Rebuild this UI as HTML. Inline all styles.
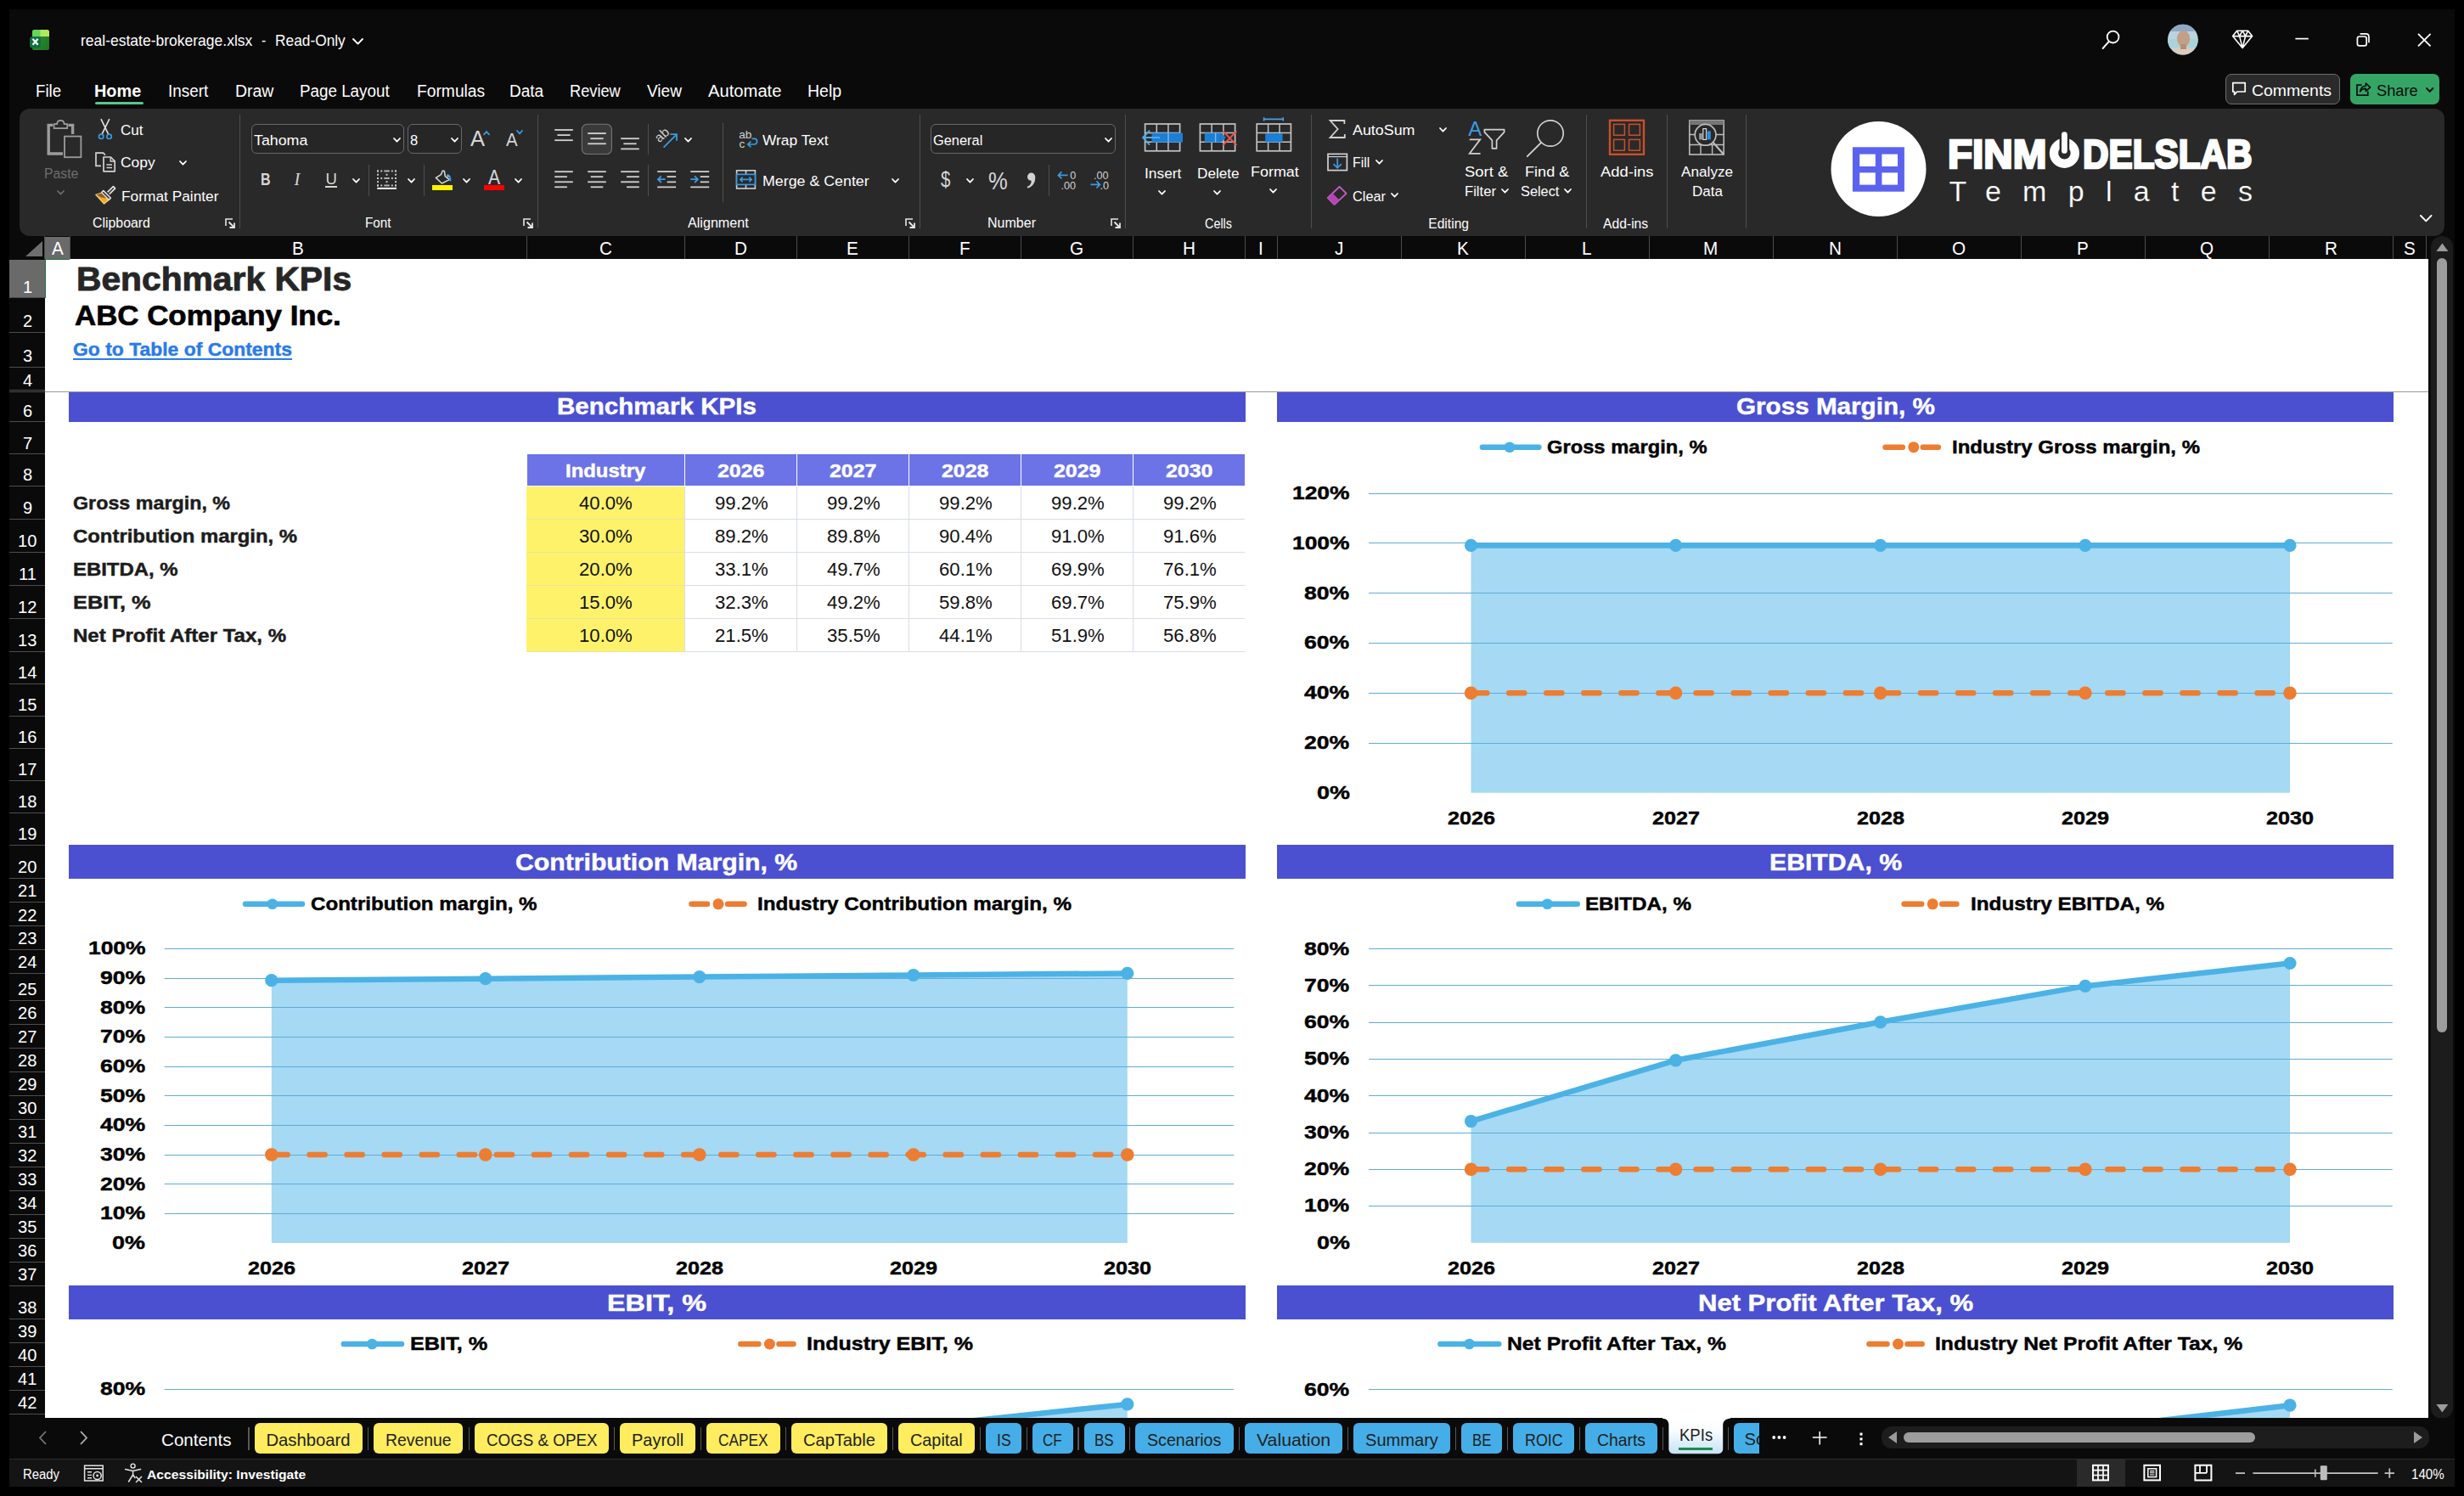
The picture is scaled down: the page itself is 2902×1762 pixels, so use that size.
<!DOCTYPE html>
<html><head><meta charset="utf-8"><title>real-estate-brokerage.xlsx - Excel</title><style>
html,body{margin:0;padding:0;background:#000;}
body{width:2902px;height:1762px;position:relative;overflow:hidden;font-family:"Liberation Sans",sans-serif;}
.t{position:absolute;white-space:nowrap;line-height:1;transform-origin:0 0;}
.r{position:absolute;}
#win{position:absolute;left:11px;top:11px;width:2880px;height:1739.7px;background:#0a0a0a;}
#clip{position:absolute;left:0;top:0;width:2860px;height:1670.5px;overflow:hidden;}
</style></head>
<body>
<div id="win"></div>
<div id="clip"><div class="r" style="left:53.0px;top:305.0px;width:2807.0px;height:1365.5px;background:#fff;"></div>
<div class="r" style="left:53.0px;top:461.0px;width:2807.0px;height:1.0px;background:#9a9a9a;"></div>
<span class="t" style="left:90.0px;top:310.0px;font-size:38.8px;color:#262626;font-weight:700;transform:scaleX(1.051);-webkit-text-stroke:0.9px currentColor;">Benchmark KPIs</span>
<span class="t" style="left:88.0px;top:355.0px;font-size:33.6px;color:#000;font-weight:700;transform:scaleX(1.038);-webkit-text-stroke:0.7px currentColor;">ABC Company Inc.</span>
<span class="t" style="left:86.0px;top:401.0px;font-size:21.6px;color:#2a7be8;font-weight:700;transform:scaleX(1.061);-webkit-text-stroke:0.45px currentColor;">Go to Table of Contents</span>
<div class="r" style="left:86.0px;top:421.8px;width:258.0px;height:2.2px;background:#2a7be8;"></div>
<div class="r" style="left:81.0px;top:461.7px;width:1385.5px;height:35.1px;background:#4b50d0;"></div>
<span class="t" style="left:656.0px;top:466.0px;font-size:26.8px;color:#fff;font-weight:700;transform:scaleX(1.103);-webkit-text-stroke:0.45px currentColor;">Benchmark KPIs</span>
<div class="r" style="left:1504.0px;top:461.7px;width:1315.0px;height:35.1px;background:#4b50d0;"></div>
<span class="t" style="left:2044.5px;top:466.0px;font-size:26.8px;color:#fff;font-weight:700;transform:scaleX(1.106);-webkit-text-stroke:0.45px currentColor;">Gross Margin, %</span>
<div class="r" style="left:81.0px;top:995.2px;width:1385.5px;height:39.5px;background:#4b50d0;"></div>
<span class="t" style="left:607.0px;top:1003.0px;font-size:26.8px;color:#fff;font-weight:700;transform:scaleX(1.127);-webkit-text-stroke:0.45px currentColor;">Contribution Margin, %</span>
<div class="r" style="left:1504.0px;top:995.2px;width:1315.0px;height:39.5px;background:#4b50d0;"></div>
<span class="t" style="left:2083.5px;top:1003.0px;font-size:26.8px;color:#fff;font-weight:700;transform:scaleX(1.127);-webkit-text-stroke:0.45px currentColor;">EBITDA, %</span>
<div class="r" style="left:81.0px;top:1514.1px;width:1385.5px;height:39.5px;background:#4b50d0;"></div>
<span class="t" style="left:715.3px;top:1522.0px;font-size:26.8px;color:#fff;font-weight:700;transform:scaleX(1.208);-webkit-text-stroke:0.45px currentColor;">EBIT, %</span>
<div class="r" style="left:1504.0px;top:1514.1px;width:1315.0px;height:39.5px;background:#4b50d0;"></div>
<span class="t" style="left:1999.8px;top:1522.0px;font-size:26.8px;color:#fff;font-weight:700;transform:scaleX(1.158);-webkit-text-stroke:0.45px currentColor;">Net Profit After Tax, %</span>
<div class="r" style="left:619.8px;top:572.5px;width:846.6px;height:195.2px;background:#d9dce9;"></div>
<div class="r" style="left:619.8px;top:572.5px;width:186.2px;height:195.2px;background:#e9e3a4;"></div>
<div class="r" style="left:620.6px;top:535.0px;width:185.2px;height:37.2px;background:#6c73e7;"></div>
<span class="t" style="left:666.1px;top:544.0px;font-size:21.8px;color:#fff;font-weight:700;transform:scaleX(1.097);-webkit-text-stroke:0.45px currentColor;">Industry</span>
<div class="r" style="left:807.3px;top:535.0px;width:130.4px;height:37.2px;background:#6c73e7;"></div>
<span class="t" style="left:844.8px;top:544.0px;font-size:21.8px;color:#fff;font-weight:700;transform:scaleX(1.144);-webkit-text-stroke:0.45px currentColor;">2026</span>
<div class="r" style="left:939.3px;top:535.0px;width:130.4px;height:37.2px;background:#6c73e7;"></div>
<span class="t" style="left:976.8px;top:544.0px;font-size:21.8px;color:#fff;font-weight:700;transform:scaleX(1.144);-webkit-text-stroke:0.45px currentColor;">2027</span>
<div class="r" style="left:1071.3px;top:535.0px;width:130.4px;height:37.2px;background:#6c73e7;"></div>
<span class="t" style="left:1108.8px;top:544.0px;font-size:21.8px;color:#fff;font-weight:700;transform:scaleX(1.144);-webkit-text-stroke:0.45px currentColor;">2028</span>
<div class="r" style="left:1203.3px;top:535.0px;width:130.4px;height:37.2px;background:#6c73e7;"></div>
<span class="t" style="left:1240.8px;top:544.0px;font-size:21.8px;color:#fff;font-weight:700;transform:scaleX(1.144);-webkit-text-stroke:0.45px currentColor;">2029</span>
<div class="r" style="left:1335.3px;top:535.0px;width:130.4px;height:37.2px;background:#6c73e7;"></div>
<span class="t" style="left:1372.8px;top:544.0px;font-size:21.8px;color:#fff;font-weight:700;transform:scaleX(1.144);-webkit-text-stroke:0.45px currentColor;">2030</span>
<div class="r" style="left:620.4px;top:573.0px;width:185.9px;height:38.1px;background:#fff26b;"></div>
<span class="t" style="left:682.3px;top:583.0px;font-size:21.3px;color:#111;transform:scaleX(1.040);">40.0%</span>
<div class="r" style="left:806.8px;top:573.0px;width:131.4px;height:38.1px;background:#fff;"></div>
<span class="t" style="left:841.6px;top:583.0px;font-size:21.3px;color:#111;transform:scaleX(1.040);">99.2%</span>
<div class="r" style="left:938.8px;top:573.0px;width:131.4px;height:38.1px;background:#fff;"></div>
<span class="t" style="left:973.6px;top:583.0px;font-size:21.3px;color:#111;transform:scaleX(1.040);">99.2%</span>
<div class="r" style="left:1070.8px;top:573.0px;width:131.4px;height:38.1px;background:#fff;"></div>
<span class="t" style="left:1105.6px;top:583.0px;font-size:21.3px;color:#111;transform:scaleX(1.040);">99.2%</span>
<div class="r" style="left:1202.8px;top:573.0px;width:131.4px;height:38.1px;background:#fff;"></div>
<span class="t" style="left:1237.6px;top:583.0px;font-size:21.3px;color:#111;transform:scaleX(1.040);">99.2%</span>
<div class="r" style="left:1334.8px;top:573.0px;width:131.4px;height:38.1px;background:#fff;"></div>
<span class="t" style="left:1369.6px;top:583.0px;font-size:21.3px;color:#111;transform:scaleX(1.040);">99.2%</span>
<span class="t" style="left:86.0px;top:583.0px;font-size:21.5px;color:#1c1c1c;font-weight:700;transform:scaleX(1.083);-webkit-text-stroke:0.45px currentColor;">Gross margin, %</span>
<div class="r" style="left:620.4px;top:612.0px;width:185.9px;height:38.1px;background:#fff26b;"></div>
<span class="t" style="left:682.3px;top:622.0px;font-size:21.3px;color:#111;transform:scaleX(1.040);">30.0%</span>
<div class="r" style="left:806.8px;top:612.0px;width:131.4px;height:38.1px;background:#fff;"></div>
<span class="t" style="left:841.6px;top:622.0px;font-size:21.3px;color:#111;transform:scaleX(1.040);">89.2%</span>
<div class="r" style="left:938.8px;top:612.0px;width:131.4px;height:38.1px;background:#fff;"></div>
<span class="t" style="left:973.6px;top:622.0px;font-size:21.3px;color:#111;transform:scaleX(1.040);">89.8%</span>
<div class="r" style="left:1070.8px;top:612.0px;width:131.4px;height:38.1px;background:#fff;"></div>
<span class="t" style="left:1105.6px;top:622.0px;font-size:21.3px;color:#111;transform:scaleX(1.040);">90.4%</span>
<div class="r" style="left:1202.8px;top:612.0px;width:131.4px;height:38.1px;background:#fff;"></div>
<span class="t" style="left:1237.6px;top:622.0px;font-size:21.3px;color:#111;transform:scaleX(1.040);">91.0%</span>
<div class="r" style="left:1334.8px;top:612.0px;width:131.4px;height:38.1px;background:#fff;"></div>
<span class="t" style="left:1369.6px;top:622.0px;font-size:21.3px;color:#111;transform:scaleX(1.040);">91.6%</span>
<span class="t" style="left:86.0px;top:622.0px;font-size:21.5px;color:#1c1c1c;font-weight:700;transform:scaleX(1.111);-webkit-text-stroke:0.45px currentColor;">Contribution margin, %</span>
<div class="r" style="left:620.4px;top:651.0px;width:185.9px;height:38.1px;background:#fff26b;"></div>
<span class="t" style="left:682.3px;top:661.0px;font-size:21.3px;color:#111;transform:scaleX(1.040);">20.0%</span>
<div class="r" style="left:806.8px;top:651.0px;width:131.4px;height:38.1px;background:#fff;"></div>
<span class="t" style="left:841.6px;top:661.0px;font-size:21.3px;color:#111;transform:scaleX(1.040);">33.1%</span>
<div class="r" style="left:938.8px;top:651.0px;width:131.4px;height:38.1px;background:#fff;"></div>
<span class="t" style="left:973.6px;top:661.0px;font-size:21.3px;color:#111;transform:scaleX(1.040);">49.7%</span>
<div class="r" style="left:1070.8px;top:651.0px;width:131.4px;height:38.1px;background:#fff;"></div>
<span class="t" style="left:1105.6px;top:661.0px;font-size:21.3px;color:#111;transform:scaleX(1.040);">60.1%</span>
<div class="r" style="left:1202.8px;top:651.0px;width:131.4px;height:38.1px;background:#fff;"></div>
<span class="t" style="left:1237.6px;top:661.0px;font-size:21.3px;color:#111;transform:scaleX(1.040);">69.9%</span>
<div class="r" style="left:1334.8px;top:651.0px;width:131.4px;height:38.1px;background:#fff;"></div>
<span class="t" style="left:1369.6px;top:661.0px;font-size:21.3px;color:#111;transform:scaleX(1.040);">76.1%</span>
<span class="t" style="left:86.0px;top:661.0px;font-size:21.5px;color:#1c1c1c;font-weight:700;transform:scaleX(1.112);-webkit-text-stroke:0.45px currentColor;">EBITDA, %</span>
<div class="r" style="left:620.4px;top:690.0px;width:185.9px;height:38.1px;background:#fff26b;"></div>
<span class="t" style="left:682.3px;top:700.0px;font-size:21.3px;color:#111;transform:scaleX(1.040);">15.0%</span>
<div class="r" style="left:806.8px;top:690.0px;width:131.4px;height:38.1px;background:#fff;"></div>
<span class="t" style="left:841.6px;top:700.0px;font-size:21.3px;color:#111;transform:scaleX(1.040);">32.3%</span>
<div class="r" style="left:938.8px;top:690.0px;width:131.4px;height:38.1px;background:#fff;"></div>
<span class="t" style="left:973.6px;top:700.0px;font-size:21.3px;color:#111;transform:scaleX(1.040);">49.2%</span>
<div class="r" style="left:1070.8px;top:690.0px;width:131.4px;height:38.1px;background:#fff;"></div>
<span class="t" style="left:1105.6px;top:700.0px;font-size:21.3px;color:#111;transform:scaleX(1.040);">59.8%</span>
<div class="r" style="left:1202.8px;top:690.0px;width:131.4px;height:38.1px;background:#fff;"></div>
<span class="t" style="left:1237.6px;top:700.0px;font-size:21.3px;color:#111;transform:scaleX(1.040);">69.7%</span>
<div class="r" style="left:1334.8px;top:690.0px;width:131.4px;height:38.1px;background:#fff;"></div>
<span class="t" style="left:1369.6px;top:700.0px;font-size:21.3px;color:#111;transform:scaleX(1.040);">75.9%</span>
<span class="t" style="left:86.0px;top:700.0px;font-size:21.5px;color:#1c1c1c;font-weight:700;transform:scaleX(1.178);-webkit-text-stroke:0.45px currentColor;">EBIT, %</span>
<div class="r" style="left:620.4px;top:729.0px;width:185.9px;height:38.1px;background:#fff26b;"></div>
<span class="t" style="left:682.3px;top:739.0px;font-size:21.3px;color:#111;transform:scaleX(1.040);">10.0%</span>
<div class="r" style="left:806.8px;top:729.0px;width:131.4px;height:38.1px;background:#fff;"></div>
<span class="t" style="left:841.6px;top:739.0px;font-size:21.3px;color:#111;transform:scaleX(1.040);">21.5%</span>
<div class="r" style="left:938.8px;top:729.0px;width:131.4px;height:38.1px;background:#fff;"></div>
<span class="t" style="left:973.6px;top:739.0px;font-size:21.3px;color:#111;transform:scaleX(1.040);">35.5%</span>
<div class="r" style="left:1070.8px;top:729.0px;width:131.4px;height:38.1px;background:#fff;"></div>
<span class="t" style="left:1105.6px;top:739.0px;font-size:21.3px;color:#111;transform:scaleX(1.040);">44.1%</span>
<div class="r" style="left:1202.8px;top:729.0px;width:131.4px;height:38.1px;background:#fff;"></div>
<span class="t" style="left:1237.6px;top:739.0px;font-size:21.3px;color:#111;transform:scaleX(1.040);">51.9%</span>
<div class="r" style="left:1334.8px;top:729.0px;width:131.4px;height:38.1px;background:#fff;"></div>
<span class="t" style="left:1369.6px;top:739.0px;font-size:21.3px;color:#111;transform:scaleX(1.040);">56.8%</span>
<span class="t" style="left:86.0px;top:739.0px;font-size:21.5px;color:#1c1c1c;font-weight:700;transform:scaleX(1.118);-webkit-text-stroke:0.45px currentColor;">Net Profit After Tax, %</span>
<svg class="r" style="left:0;top:0" width="2860" height="1670.5" viewBox="0 0 2860 1670.5"><polygon points="1732.5,933.8 1732.5,642.4 1973.6,642.4 2214.7,642.4 2455.9,642.4 2697.0,642.4 2697.0,933.8" fill="#a5d9f4"/>
<line x1="1612.0" x2="2817.7" y1="875.5" y2="875.5" stroke="#5fabd8" stroke-width="1.1"/>
<line x1="1612.0" x2="2817.7" y1="816.5" y2="816.5" stroke="#5fabd8" stroke-width="1.1"/>
<line x1="1612.0" x2="2817.7" y1="757.5" y2="757.5" stroke="#5fabd8" stroke-width="1.1"/>
<line x1="1612.0" x2="2817.7" y1="698.5" y2="698.5" stroke="#5fabd8" stroke-width="1.1"/>
<line x1="1612.0" x2="2817.7" y1="639.5" y2="639.5" stroke="#5fabd8" stroke-width="1.1"/>
<line x1="1612.0" x2="2817.7" y1="581.5" y2="581.5" stroke="#5fabd8" stroke-width="1.1"/>
<polyline points="1732.5,642.4 1973.6,642.4 2214.7,642.4 2455.9,642.4 2697.0,642.4" fill="none" stroke="#4bb2e6" stroke-width="6.5" stroke-linejoin="round" stroke-linecap="round"/>
<circle cx="1732.5" cy="642.4" r="7.6" fill="#4bb2e6"/>
<circle cx="1973.6" cy="642.4" r="7.6" fill="#4bb2e6"/>
<circle cx="2214.7" cy="642.4" r="7.6" fill="#4bb2e6"/>
<circle cx="2455.9" cy="642.4" r="7.6" fill="#4bb2e6"/>
<circle cx="2697.0" cy="642.4" r="7.6" fill="#4bb2e6"/>
<line x1="1732.5" x2="2697.0" y1="816.3" y2="816.3" stroke="#ed7d31" stroke-width="6.5" stroke-dasharray="18.2 25.87" stroke-dashoffset="-0.6" stroke-linecap="round"/>
<circle cx="1732.5" cy="816.3" r="7.8" fill="#ed7d31"/>
<circle cx="1973.6" cy="816.3" r="7.8" fill="#ed7d31"/>
<circle cx="2214.7" cy="816.3" r="7.8" fill="#ed7d31"/>
<circle cx="2455.9" cy="816.3" r="7.8" fill="#ed7d31"/>
<circle cx="2697.0" cy="816.3" r="7.8" fill="#ed7d31"/>
<line x1="1745.9" x2="1812.4" y1="526.7" y2="526.7" stroke="#4bb2e6" stroke-width="6.5" stroke-linecap="round"/>
<circle cx="1778" cy="526.7" r="6.3" fill="#4bb2e6"/>
<line x1="2220.5" x2="2240.8" y1="526.7" y2="526.7" stroke="#ed7d31" stroke-width="6.5" stroke-linecap="round"/>
<line x1="2264.8" x2="2282.8" y1="526.7" y2="526.7" stroke="#ed7d31" stroke-width="6.5" stroke-linecap="round"/>
<circle cx="2253.8" cy="526.7" r="6.5" fill="#ed7d31"/>
<polygon points="319.8,1464.0 319.8,1154.7 571.8,1152.7 823.8,1150.6 1075.8,1148.5 1327.8,1146.4 1327.8,1464.0" fill="#a5d9f4"/>
<line x1="193.7" x2="1453.2" y1="1429.5" y2="1429.5" stroke="#5fabd8" stroke-width="1.1"/>
<line x1="193.7" x2="1453.2" y1="1394.5" y2="1394.5" stroke="#5fabd8" stroke-width="1.1"/>
<line x1="193.7" x2="1453.2" y1="1360.5" y2="1360.5" stroke="#5fabd8" stroke-width="1.1"/>
<line x1="193.7" x2="1453.2" y1="1325.5" y2="1325.5" stroke="#5fabd8" stroke-width="1.1"/>
<line x1="193.7" x2="1453.2" y1="1290.5" y2="1290.5" stroke="#5fabd8" stroke-width="1.1"/>
<line x1="193.7" x2="1453.2" y1="1256.5" y2="1256.5" stroke="#5fabd8" stroke-width="1.1"/>
<line x1="193.7" x2="1453.2" y1="1221.5" y2="1221.5" stroke="#5fabd8" stroke-width="1.1"/>
<line x1="193.7" x2="1453.2" y1="1186.5" y2="1186.5" stroke="#5fabd8" stroke-width="1.1"/>
<line x1="193.7" x2="1453.2" y1="1152.5" y2="1152.5" stroke="#5fabd8" stroke-width="1.1"/>
<line x1="193.7" x2="1453.2" y1="1117.5" y2="1117.5" stroke="#5fabd8" stroke-width="1.1"/>
<polyline points="319.8,1154.7 571.8,1152.7 823.8,1150.6 1075.8,1148.5 1327.8,1146.4" fill="none" stroke="#4bb2e6" stroke-width="6.5" stroke-linejoin="round" stroke-linecap="round"/>
<circle cx="319.8" cy="1154.7" r="7.6" fill="#4bb2e6"/>
<circle cx="571.8" cy="1152.7" r="7.6" fill="#4bb2e6"/>
<circle cx="823.8" cy="1150.6" r="7.6" fill="#4bb2e6"/>
<circle cx="1075.8" cy="1148.5" r="7.6" fill="#4bb2e6"/>
<circle cx="1327.8" cy="1146.4" r="7.6" fill="#4bb2e6"/>
<line x1="319.8" x2="1327.8" y1="1360.0" y2="1360.0" stroke="#ed7d31" stroke-width="6.5" stroke-dasharray="18.2 25.87" stroke-dashoffset="-0.6" stroke-linecap="round"/>
<circle cx="319.8" cy="1360.0" r="7.8" fill="#ed7d31"/>
<circle cx="571.8" cy="1360.0" r="7.8" fill="#ed7d31"/>
<circle cx="823.8" cy="1360.0" r="7.8" fill="#ed7d31"/>
<circle cx="1075.8" cy="1360.0" r="7.8" fill="#ed7d31"/>
<circle cx="1327.8" cy="1360.0" r="7.8" fill="#ed7d31"/>
<line x1="289" x2="356" y1="1064.8" y2="1064.8" stroke="#4bb2e6" stroke-width="6.5" stroke-linecap="round"/>
<circle cx="320.8" cy="1064.8" r="6.3" fill="#4bb2e6"/>
<line x1="814.5" x2="833" y1="1064.8" y2="1064.8" stroke="#ed7d31" stroke-width="6.5" stroke-linecap="round"/>
<line x1="857" x2="876.6" y1="1064.8" y2="1064.8" stroke="#ed7d31" stroke-width="6.5" stroke-linecap="round"/>
<circle cx="846" cy="1064.8" r="6.5" fill="#ed7d31"/>
<polygon points="1732.5,1463.8 1732.5,1320.6 1973.6,1248.8 2214.7,1203.8 2455.9,1161.4 2697.0,1134.5 2697.0,1463.8" fill="#a5d9f4"/>
<line x1="1612.0" x2="2817.7" y1="1420.5" y2="1420.5" stroke="#5fabd8" stroke-width="1.1"/>
<line x1="1612.0" x2="2817.7" y1="1377.5" y2="1377.5" stroke="#5fabd8" stroke-width="1.1"/>
<line x1="1612.0" x2="2817.7" y1="1334.5" y2="1334.5" stroke="#5fabd8" stroke-width="1.1"/>
<line x1="1612.0" x2="2817.7" y1="1290.5" y2="1290.5" stroke="#5fabd8" stroke-width="1.1"/>
<line x1="1612.0" x2="2817.7" y1="1247.5" y2="1247.5" stroke="#5fabd8" stroke-width="1.1"/>
<line x1="1612.0" x2="2817.7" y1="1204.5" y2="1204.5" stroke="#5fabd8" stroke-width="1.1"/>
<line x1="1612.0" x2="2817.7" y1="1160.5" y2="1160.5" stroke="#5fabd8" stroke-width="1.1"/>
<line x1="1612.0" x2="2817.7" y1="1117.5" y2="1117.5" stroke="#5fabd8" stroke-width="1.1"/>
<polyline points="1732.5,1320.6 1973.6,1248.8 2214.7,1203.8 2455.9,1161.4 2697.0,1134.5" fill="none" stroke="#4bb2e6" stroke-width="6.5" stroke-linejoin="round" stroke-linecap="round"/>
<circle cx="1732.5" cy="1320.6" r="7.6" fill="#4bb2e6"/>
<circle cx="1973.6" cy="1248.8" r="7.6" fill="#4bb2e6"/>
<circle cx="2214.7" cy="1203.8" r="7.6" fill="#4bb2e6"/>
<circle cx="2455.9" cy="1161.4" r="7.6" fill="#4bb2e6"/>
<circle cx="2697.0" cy="1134.5" r="7.6" fill="#4bb2e6"/>
<line x1="1732.5" x2="2697.0" y1="1377.3" y2="1377.3" stroke="#ed7d31" stroke-width="6.5" stroke-dasharray="18.2 25.87" stroke-dashoffset="-0.6" stroke-linecap="round"/>
<circle cx="1732.5" cy="1377.3" r="7.8" fill="#ed7d31"/>
<circle cx="1973.6" cy="1377.3" r="7.8" fill="#ed7d31"/>
<circle cx="2214.7" cy="1377.3" r="7.8" fill="#ed7d31"/>
<circle cx="2455.9" cy="1377.3" r="7.8" fill="#ed7d31"/>
<circle cx="2697.0" cy="1377.3" r="7.8" fill="#ed7d31"/>
<line x1="1788.9" x2="1857.7" y1="1064.8" y2="1064.8" stroke="#4bb2e6" stroke-width="6.5" stroke-linecap="round"/>
<circle cx="1822.4" cy="1064.8" r="6.3" fill="#4bb2e6"/>
<line x1="2242.6" x2="2263.2" y1="1064.8" y2="1064.8" stroke="#ed7d31" stroke-width="6.5" stroke-linecap="round"/>
<line x1="2287.2" x2="2304.4" y1="1064.8" y2="1064.8" stroke="#ed7d31" stroke-width="6.5" stroke-linecap="round"/>
<circle cx="2276.2" cy="1064.8" r="6.5" fill="#ed7d31"/>
<polygon points="319.8,1982.1 319.8,1842.4 571.8,1769.4 823.8,1723.5 1075.8,1680.7 1327.8,1653.9 1327.8,1982.1" fill="#a5d9f4"/>
<line x1="193.7" x2="1453.2" y1="1938.5" y2="1938.5" stroke="#5fabd8" stroke-width="1.1"/>
<line x1="193.7" x2="1453.2" y1="1895.5" y2="1895.5" stroke="#5fabd8" stroke-width="1.1"/>
<line x1="193.7" x2="1453.2" y1="1852.5" y2="1852.5" stroke="#5fabd8" stroke-width="1.1"/>
<line x1="193.7" x2="1453.2" y1="1809.5" y2="1809.5" stroke="#5fabd8" stroke-width="1.1"/>
<line x1="193.7" x2="1453.2" y1="1765.5" y2="1765.5" stroke="#5fabd8" stroke-width="1.1"/>
<line x1="193.7" x2="1453.2" y1="1722.5" y2="1722.5" stroke="#5fabd8" stroke-width="1.1"/>
<line x1="193.7" x2="1453.2" y1="1679.5" y2="1679.5" stroke="#5fabd8" stroke-width="1.1"/>
<line x1="193.7" x2="1453.2" y1="1636.5" y2="1636.5" stroke="#5fabd8" stroke-width="1.1"/>
<polyline points="319.8,1842.4 571.8,1769.4 823.8,1723.5 1075.8,1680.7 1327.8,1653.9" fill="none" stroke="#4bb2e6" stroke-width="6.5" stroke-linejoin="round" stroke-linecap="round"/>
<circle cx="319.8" cy="1842.4" r="7.6" fill="#4bb2e6"/>
<circle cx="571.8" cy="1769.4" r="7.6" fill="#4bb2e6"/>
<circle cx="823.8" cy="1723.5" r="7.6" fill="#4bb2e6"/>
<circle cx="1075.8" cy="1680.7" r="7.6" fill="#4bb2e6"/>
<circle cx="1327.8" cy="1653.9" r="7.6" fill="#4bb2e6"/>
<line x1="319.8" x2="1327.8" y1="1917.2" y2="1917.2" stroke="#ed7d31" stroke-width="6.5" stroke-dasharray="18.2 25.87" stroke-dashoffset="-0.6" stroke-linecap="round"/>
<circle cx="319.8" cy="1917.2" r="7.8" fill="#ed7d31"/>
<circle cx="571.8" cy="1917.2" r="7.8" fill="#ed7d31"/>
<circle cx="823.8" cy="1917.2" r="7.8" fill="#ed7d31"/>
<circle cx="1075.8" cy="1917.2" r="7.8" fill="#ed7d31"/>
<circle cx="1327.8" cy="1917.2" r="7.8" fill="#ed7d31"/>
<line x1="404.8" x2="473" y1="1583" y2="1583" stroke="#4bb2e6" stroke-width="6.5" stroke-linecap="round"/>
<circle cx="438.3" cy="1583" r="6.3" fill="#4bb2e6"/>
<line x1="872.3" x2="893.4" y1="1583" y2="1583" stroke="#ed7d31" stroke-width="6.5" stroke-linecap="round"/>
<line x1="917.4" x2="934.5" y1="1583" y2="1583" stroke="#ed7d31" stroke-width="6.5" stroke-linecap="round"/>
<circle cx="906.4" cy="1583" r="6.5" fill="#ed7d31"/>
<polygon points="1732.5,1983.2 1732.5,1859.0 1973.6,1778.2 2214.7,1728.5 2455.9,1683.5 2697.0,1655.2 2697.0,1983.2" fill="#a5d9f4"/>
<line x1="1612.0" x2="2817.7" y1="1925.5" y2="1925.5" stroke="#5fabd8" stroke-width="1.1"/>
<line x1="1612.0" x2="2817.7" y1="1867.5" y2="1867.5" stroke="#5fabd8" stroke-width="1.1"/>
<line x1="1612.0" x2="2817.7" y1="1809.5" y2="1809.5" stroke="#5fabd8" stroke-width="1.1"/>
<line x1="1612.0" x2="2817.7" y1="1752.5" y2="1752.5" stroke="#5fabd8" stroke-width="1.1"/>
<line x1="1612.0" x2="2817.7" y1="1694.5" y2="1694.5" stroke="#5fabd8" stroke-width="1.1"/>
<line x1="1612.0" x2="2817.7" y1="1636.5" y2="1636.5" stroke="#5fabd8" stroke-width="1.1"/>
<polyline points="1732.5,1859.0 1973.6,1778.2 2214.7,1728.5 2455.9,1683.5 2697.0,1655.2" fill="none" stroke="#4bb2e6" stroke-width="6.5" stroke-linejoin="round" stroke-linecap="round"/>
<circle cx="1732.5" cy="1859.0" r="7.6" fill="#4bb2e6"/>
<circle cx="1973.6" cy="1778.2" r="7.6" fill="#4bb2e6"/>
<circle cx="2214.7" cy="1728.5" r="7.6" fill="#4bb2e6"/>
<circle cx="2455.9" cy="1683.5" r="7.6" fill="#4bb2e6"/>
<circle cx="2697.0" cy="1655.2" r="7.6" fill="#4bb2e6"/>
<line x1="1732.5" x2="2697.0" y1="1925.5" y2="1925.5" stroke="#ed7d31" stroke-width="6.5" stroke-dasharray="18.2 25.87" stroke-dashoffset="-0.6" stroke-linecap="round"/>
<circle cx="1732.5" cy="1925.5" r="7.8" fill="#ed7d31"/>
<circle cx="1973.6" cy="1925.5" r="7.8" fill="#ed7d31"/>
<circle cx="2214.7" cy="1925.5" r="7.8" fill="#ed7d31"/>
<circle cx="2455.9" cy="1925.5" r="7.8" fill="#ed7d31"/>
<circle cx="2697.0" cy="1925.5" r="7.8" fill="#ed7d31"/>
<line x1="1696.4" x2="1765.2" y1="1583" y2="1583" stroke="#4bb2e6" stroke-width="6.5" stroke-linecap="round"/>
<circle cx="1730.5" cy="1583" r="6.3" fill="#4bb2e6"/>
<line x1="2201.4" x2="2222.5" y1="1583" y2="1583" stroke="#ed7d31" stroke-width="6.5" stroke-linecap="round"/>
<line x1="2246.5" x2="2263.7" y1="1583" y2="1583" stroke="#ed7d31" stroke-width="6.5" stroke-linecap="round"/>
<circle cx="2235.5" cy="1583" r="6.5" fill="#ed7d31"/></svg>
<span class="t" style="left:1550.7px;top:922.0px;font-size:22.8px;color:#000;font-weight:700;transform:scaleX(1.180);-webkit-text-stroke:0.45px currentColor;">0%</span>
<span class="t" style="left:1536.4px;top:863.0px;font-size:22.8px;color:#000;font-weight:700;transform:scaleX(1.166);-webkit-text-stroke:0.45px currentColor;">20%</span>
<span class="t" style="left:1536.4px;top:804.0px;font-size:22.8px;color:#000;font-weight:700;transform:scaleX(1.166);-webkit-text-stroke:0.45px currentColor;">40%</span>
<span class="t" style="left:1536.4px;top:745.0px;font-size:22.8px;color:#000;font-weight:700;transform:scaleX(1.166);-webkit-text-stroke:0.45px currentColor;">60%</span>
<span class="t" style="left:1536.4px;top:687.0px;font-size:22.8px;color:#000;font-weight:700;transform:scaleX(1.166);-webkit-text-stroke:0.45px currentColor;">80%</span>
<span class="t" style="left:1522.1px;top:628.0px;font-size:22.8px;color:#000;font-weight:700;transform:scaleX(1.158);-webkit-text-stroke:0.45px currentColor;">100%</span>
<span class="t" style="left:1522.1px;top:569.0px;font-size:22.8px;color:#000;font-weight:700;transform:scaleX(1.158);-webkit-text-stroke:0.45px currentColor;">120%</span>
<span class="t" style="left:1704.5px;top:952.0px;font-size:22.8px;color:#000;font-weight:700;transform:scaleX(1.104);-webkit-text-stroke:0.45px currentColor;">2026</span>
<span class="t" style="left:1945.6px;top:952.0px;font-size:22.8px;color:#000;font-weight:700;transform:scaleX(1.104);-webkit-text-stroke:0.45px currentColor;">2027</span>
<span class="t" style="left:2186.7px;top:952.0px;font-size:22.8px;color:#000;font-weight:700;transform:scaleX(1.104);-webkit-text-stroke:0.45px currentColor;">2028</span>
<span class="t" style="left:2427.9px;top:952.0px;font-size:22.8px;color:#000;font-weight:700;transform:scaleX(1.104);-webkit-text-stroke:0.45px currentColor;">2029</span>
<span class="t" style="left:2669.0px;top:952.0px;font-size:22.8px;color:#000;font-weight:700;transform:scaleX(1.104);-webkit-text-stroke:0.45px currentColor;">2030</span>
<span class="t" style="left:1822.4px;top:516.0px;font-size:22.6px;color:#000;font-weight:700;transform:scaleX(1.050);-webkit-text-stroke:0.45px currentColor;">Gross margin, %</span>
<span class="t" style="left:2298.6px;top:516.0px;font-size:22.6px;color:#000;font-weight:700;transform:scaleX(1.062);-webkit-text-stroke:0.45px currentColor;">Industry Gross margin, %</span>
<span class="t" style="left:132.4px;top:1452.0px;font-size:22.8px;color:#000;font-weight:700;transform:scaleX(1.180);-webkit-text-stroke:0.45px currentColor;">0%</span>
<span class="t" style="left:118.1px;top:1417.0px;font-size:22.8px;color:#000;font-weight:700;transform:scaleX(1.166);-webkit-text-stroke:0.45px currentColor;">10%</span>
<span class="t" style="left:118.1px;top:1383.0px;font-size:22.8px;color:#000;font-weight:700;transform:scaleX(1.166);-webkit-text-stroke:0.45px currentColor;">20%</span>
<span class="t" style="left:118.1px;top:1348.0px;font-size:22.8px;color:#000;font-weight:700;transform:scaleX(1.166);-webkit-text-stroke:0.45px currentColor;">30%</span>
<span class="t" style="left:118.1px;top:1313.0px;font-size:22.8px;color:#000;font-weight:700;transform:scaleX(1.166);-webkit-text-stroke:0.45px currentColor;">40%</span>
<span class="t" style="left:118.1px;top:1279.0px;font-size:22.8px;color:#000;font-weight:700;transform:scaleX(1.166);-webkit-text-stroke:0.45px currentColor;">50%</span>
<span class="t" style="left:118.1px;top:1244.0px;font-size:22.8px;color:#000;font-weight:700;transform:scaleX(1.166);-webkit-text-stroke:0.45px currentColor;">60%</span>
<span class="t" style="left:118.1px;top:1209.0px;font-size:22.8px;color:#000;font-weight:700;transform:scaleX(1.166);-webkit-text-stroke:0.45px currentColor;">70%</span>
<span class="t" style="left:118.1px;top:1175.0px;font-size:22.8px;color:#000;font-weight:700;transform:scaleX(1.166);-webkit-text-stroke:0.45px currentColor;">80%</span>
<span class="t" style="left:118.1px;top:1140.0px;font-size:22.8px;color:#000;font-weight:700;transform:scaleX(1.166);-webkit-text-stroke:0.45px currentColor;">90%</span>
<span class="t" style="left:103.8px;top:1105.0px;font-size:22.8px;color:#000;font-weight:700;transform:scaleX(1.158);-webkit-text-stroke:0.45px currentColor;">100%</span>
<span class="t" style="left:291.8px;top:1482.0px;font-size:22.8px;color:#000;font-weight:700;transform:scaleX(1.104);-webkit-text-stroke:0.45px currentColor;">2026</span>
<span class="t" style="left:543.8px;top:1482.0px;font-size:22.8px;color:#000;font-weight:700;transform:scaleX(1.104);-webkit-text-stroke:0.45px currentColor;">2027</span>
<span class="t" style="left:795.8px;top:1482.0px;font-size:22.8px;color:#000;font-weight:700;transform:scaleX(1.104);-webkit-text-stroke:0.45px currentColor;">2028</span>
<span class="t" style="left:1047.8px;top:1482.0px;font-size:22.8px;color:#000;font-weight:700;transform:scaleX(1.104);-webkit-text-stroke:0.45px currentColor;">2029</span>
<span class="t" style="left:1299.8px;top:1482.0px;font-size:22.8px;color:#000;font-weight:700;transform:scaleX(1.104);-webkit-text-stroke:0.45px currentColor;">2030</span>
<span class="t" style="left:365.9px;top:1054.0px;font-size:22.6px;color:#000;font-weight:700;transform:scaleX(1.067);-webkit-text-stroke:0.45px currentColor;">Contribution margin, %</span>
<span class="t" style="left:891.8px;top:1054.0px;font-size:22.6px;color:#000;font-weight:700;transform:scaleX(1.072);-webkit-text-stroke:0.45px currentColor;">Industry Contribution margin, %</span>
<span class="t" style="left:1550.7px;top:1452.0px;font-size:22.8px;color:#000;font-weight:700;transform:scaleX(1.180);-webkit-text-stroke:0.45px currentColor;">0%</span>
<span class="t" style="left:1536.4px;top:1408.0px;font-size:22.8px;color:#000;font-weight:700;transform:scaleX(1.166);-webkit-text-stroke:0.45px currentColor;">10%</span>
<span class="t" style="left:1536.4px;top:1365.0px;font-size:22.8px;color:#000;font-weight:700;transform:scaleX(1.166);-webkit-text-stroke:0.45px currentColor;">20%</span>
<span class="t" style="left:1536.4px;top:1322.0px;font-size:22.8px;color:#000;font-weight:700;transform:scaleX(1.166);-webkit-text-stroke:0.45px currentColor;">30%</span>
<span class="t" style="left:1536.4px;top:1279.0px;font-size:22.8px;color:#000;font-weight:700;transform:scaleX(1.166);-webkit-text-stroke:0.45px currentColor;">40%</span>
<span class="t" style="left:1536.4px;top:1235.0px;font-size:22.8px;color:#000;font-weight:700;transform:scaleX(1.166);-webkit-text-stroke:0.45px currentColor;">50%</span>
<span class="t" style="left:1536.4px;top:1192.0px;font-size:22.8px;color:#000;font-weight:700;transform:scaleX(1.166);-webkit-text-stroke:0.45px currentColor;">60%</span>
<span class="t" style="left:1536.4px;top:1149.0px;font-size:22.8px;color:#000;font-weight:700;transform:scaleX(1.166);-webkit-text-stroke:0.45px currentColor;">70%</span>
<span class="t" style="left:1536.4px;top:1106.0px;font-size:22.8px;color:#000;font-weight:700;transform:scaleX(1.166);-webkit-text-stroke:0.45px currentColor;">80%</span>
<span class="t" style="left:1704.5px;top:1482.0px;font-size:22.8px;color:#000;font-weight:700;transform:scaleX(1.104);-webkit-text-stroke:0.45px currentColor;">2026</span>
<span class="t" style="left:1945.6px;top:1482.0px;font-size:22.8px;color:#000;font-weight:700;transform:scaleX(1.104);-webkit-text-stroke:0.45px currentColor;">2027</span>
<span class="t" style="left:2186.7px;top:1482.0px;font-size:22.8px;color:#000;font-weight:700;transform:scaleX(1.104);-webkit-text-stroke:0.45px currentColor;">2028</span>
<span class="t" style="left:2427.9px;top:1482.0px;font-size:22.8px;color:#000;font-weight:700;transform:scaleX(1.104);-webkit-text-stroke:0.45px currentColor;">2029</span>
<span class="t" style="left:2669.0px;top:1482.0px;font-size:22.8px;color:#000;font-weight:700;transform:scaleX(1.104);-webkit-text-stroke:0.45px currentColor;">2030</span>
<span class="t" style="left:1867.2px;top:1054.0px;font-size:22.6px;color:#000;font-weight:700;transform:scaleX(1.070);-webkit-text-stroke:0.45px currentColor;">EBITDA, %</span>
<span class="t" style="left:2320.9px;top:1054.0px;font-size:22.6px;color:#000;font-weight:700;transform:scaleX(1.075);-webkit-text-stroke:0.45px currentColor;">Industry EBITDA, %</span>
<span class="t" style="left:132.4px;top:1970.0px;font-size:22.8px;color:#000;font-weight:700;transform:scaleX(1.180);-webkit-text-stroke:0.45px currentColor;">0%</span>
<span class="t" style="left:118.1px;top:1927.0px;font-size:22.8px;color:#000;font-weight:700;transform:scaleX(1.166);-webkit-text-stroke:0.45px currentColor;">10%</span>
<span class="t" style="left:118.1px;top:1884.0px;font-size:22.8px;color:#000;font-weight:700;transform:scaleX(1.166);-webkit-text-stroke:0.45px currentColor;">20%</span>
<span class="t" style="left:118.1px;top:1840.0px;font-size:22.8px;color:#000;font-weight:700;transform:scaleX(1.166);-webkit-text-stroke:0.45px currentColor;">30%</span>
<span class="t" style="left:118.1px;top:1797.0px;font-size:22.8px;color:#000;font-weight:700;transform:scaleX(1.166);-webkit-text-stroke:0.45px currentColor;">40%</span>
<span class="t" style="left:118.1px;top:1754.0px;font-size:22.8px;color:#000;font-weight:700;transform:scaleX(1.166);-webkit-text-stroke:0.45px currentColor;">50%</span>
<span class="t" style="left:118.1px;top:1711.0px;font-size:22.8px;color:#000;font-weight:700;transform:scaleX(1.166);-webkit-text-stroke:0.45px currentColor;">60%</span>
<span class="t" style="left:118.1px;top:1667.0px;font-size:22.8px;color:#000;font-weight:700;transform:scaleX(1.166);-webkit-text-stroke:0.45px currentColor;">70%</span>
<span class="t" style="left:118.1px;top:1624.0px;font-size:22.8px;color:#000;font-weight:700;transform:scaleX(1.166);-webkit-text-stroke:0.45px currentColor;">80%</span>
<span class="t" style="left:291.8px;top:2000.0px;font-size:22.8px;color:#000;font-weight:700;transform:scaleX(1.104);-webkit-text-stroke:0.45px currentColor;">2026</span>
<span class="t" style="left:543.8px;top:2000.0px;font-size:22.8px;color:#000;font-weight:700;transform:scaleX(1.104);-webkit-text-stroke:0.45px currentColor;">2027</span>
<span class="t" style="left:795.8px;top:2000.0px;font-size:22.8px;color:#000;font-weight:700;transform:scaleX(1.104);-webkit-text-stroke:0.45px currentColor;">2028</span>
<span class="t" style="left:1047.8px;top:2000.0px;font-size:22.8px;color:#000;font-weight:700;transform:scaleX(1.104);-webkit-text-stroke:0.45px currentColor;">2029</span>
<span class="t" style="left:1299.8px;top:2000.0px;font-size:22.8px;color:#000;font-weight:700;transform:scaleX(1.104);-webkit-text-stroke:0.45px currentColor;">2030</span>
<span class="t" style="left:482.7px;top:1572.0px;font-size:22.6px;color:#000;font-weight:700;transform:scaleX(1.119);-webkit-text-stroke:0.45px currentColor;">EBIT, %</span>
<span class="t" style="left:950.3px;top:1572.0px;font-size:22.6px;color:#000;font-weight:700;transform:scaleX(1.107);-webkit-text-stroke:0.45px currentColor;">Industry EBIT, %</span>
<span class="t" style="left:1550.7px;top:1971.0px;font-size:22.8px;color:#000;font-weight:700;transform:scaleX(1.180);-webkit-text-stroke:0.45px currentColor;">0%</span>
<span class="t" style="left:1536.4px;top:1913.0px;font-size:22.8px;color:#000;font-weight:700;transform:scaleX(1.166);-webkit-text-stroke:0.45px currentColor;">10%</span>
<span class="t" style="left:1536.4px;top:1856.0px;font-size:22.8px;color:#000;font-weight:700;transform:scaleX(1.166);-webkit-text-stroke:0.45px currentColor;">20%</span>
<span class="t" style="left:1536.4px;top:1798.0px;font-size:22.8px;color:#000;font-weight:700;transform:scaleX(1.166);-webkit-text-stroke:0.45px currentColor;">30%</span>
<span class="t" style="left:1536.4px;top:1740.0px;font-size:22.8px;color:#000;font-weight:700;transform:scaleX(1.166);-webkit-text-stroke:0.45px currentColor;">40%</span>
<span class="t" style="left:1536.4px;top:1682.0px;font-size:22.8px;color:#000;font-weight:700;transform:scaleX(1.166);-webkit-text-stroke:0.45px currentColor;">50%</span>
<span class="t" style="left:1536.4px;top:1625.0px;font-size:22.8px;color:#000;font-weight:700;transform:scaleX(1.166);-webkit-text-stroke:0.45px currentColor;">60%</span>
<span class="t" style="left:1704.5px;top:2001.0px;font-size:22.8px;color:#000;font-weight:700;transform:scaleX(1.104);-webkit-text-stroke:0.45px currentColor;">2026</span>
<span class="t" style="left:1945.6px;top:2001.0px;font-size:22.8px;color:#000;font-weight:700;transform:scaleX(1.104);-webkit-text-stroke:0.45px currentColor;">2027</span>
<span class="t" style="left:2186.7px;top:2001.0px;font-size:22.8px;color:#000;font-weight:700;transform:scaleX(1.104);-webkit-text-stroke:0.45px currentColor;">2028</span>
<span class="t" style="left:2427.9px;top:2001.0px;font-size:22.8px;color:#000;font-weight:700;transform:scaleX(1.104);-webkit-text-stroke:0.45px currentColor;">2029</span>
<span class="t" style="left:2669.0px;top:2001.0px;font-size:22.8px;color:#000;font-weight:700;transform:scaleX(1.104);-webkit-text-stroke:0.45px currentColor;">2030</span>
<span class="t" style="left:1775.3px;top:1572.0px;font-size:22.6px;color:#000;font-weight:700;transform:scaleX(1.093);-webkit-text-stroke:0.45px currentColor;">Net Profit After Tax, %</span>
<span class="t" style="left:2279.1px;top:1572.0px;font-size:22.6px;color:#000;font-weight:700;transform:scaleX(1.093);-webkit-text-stroke:0.45px currentColor;">Industry Net Profit After Tax, %</span></div>
<div class="r" style="left:11.0px;top:278.0px;width:2880.0px;height:27.0px;background:#0a0a0a;"></div>
<div class="r" style="left:53.0px;top:279.0px;width:29.0px;height:26.0px;background:#6a6a6a;"></div>
<span class="t" style="left:60.6px;top:282.0px;font-size:21.8px;color:#fff;transform:scaleX(0.950);">A</span>
<div class="r" style="left:82.1px;top:278.4px;width:1.2px;height:26.6px;background:#4d4d4d;"></div>
<span class="t" style="left:344.1px;top:282.0px;font-size:21.8px;color:#fff;transform:scaleX(0.950);">B</span>
<div class="r" style="left:620.1px;top:278.4px;width:1.2px;height:26.6px;background:#4d4d4d;"></div>
<span class="t" style="left:705.5px;top:282.0px;font-size:21.8px;color:#fff;transform:scaleX(0.950);">C</span>
<div class="r" style="left:806.1px;top:278.4px;width:1.2px;height:26.6px;background:#4d4d4d;"></div>
<span class="t" style="left:864.5px;top:282.0px;font-size:21.8px;color:#fff;transform:scaleX(0.950);">D</span>
<div class="r" style="left:938.1px;top:278.4px;width:1.2px;height:26.6px;background:#4d4d4d;"></div>
<span class="t" style="left:997.1px;top:282.0px;font-size:21.8px;color:#fff;transform:scaleX(0.950);">E</span>
<div class="r" style="left:1070.1px;top:278.4px;width:1.2px;height:26.6px;background:#4d4d4d;"></div>
<span class="t" style="left:1129.7px;top:282.0px;font-size:21.8px;color:#fff;transform:scaleX(0.950);">F</span>
<div class="r" style="left:1202.1px;top:278.4px;width:1.2px;height:26.6px;background:#4d4d4d;"></div>
<span class="t" style="left:1259.9px;top:282.0px;font-size:21.8px;color:#fff;transform:scaleX(0.950);">G</span>
<div class="r" style="left:1334.1px;top:278.4px;width:1.2px;height:26.6px;background:#4d4d4d;"></div>
<span class="t" style="left:1392.5px;top:282.0px;font-size:21.8px;color:#fff;transform:scaleX(0.950);">H</span>
<div class="r" style="left:1466.1px;top:278.4px;width:1.2px;height:26.6px;background:#4d4d4d;"></div>
<span class="t" style="left:1482.1px;top:282.0px;font-size:21.8px;color:#fff;transform:scaleX(0.950);">I</span>
<div class="r" style="left:1504.1px;top:278.4px;width:1.2px;height:26.6px;background:#4d4d4d;"></div>
<span class="t" style="left:1571.8px;top:282.0px;font-size:21.8px;color:#fff;transform:scaleX(0.950);">J</span>
<div class="r" style="left:1650.1px;top:278.4px;width:1.2px;height:26.6px;background:#4d4d4d;"></div>
<span class="t" style="left:1716.1px;top:282.0px;font-size:21.8px;color:#fff;transform:scaleX(0.950);">K</span>
<div class="r" style="left:1796.1px;top:278.4px;width:1.2px;height:26.6px;background:#4d4d4d;"></div>
<span class="t" style="left:1863.2px;top:282.0px;font-size:21.8px;color:#fff;transform:scaleX(0.950);">L</span>
<div class="r" style="left:1942.1px;top:278.4px;width:1.2px;height:26.6px;background:#4d4d4d;"></div>
<span class="t" style="left:2006.4px;top:282.0px;font-size:21.8px;color:#fff;transform:scaleX(0.950);">M</span>
<div class="r" style="left:2088.1px;top:278.4px;width:1.2px;height:26.6px;background:#4d4d4d;"></div>
<span class="t" style="left:2153.5px;top:282.0px;font-size:21.8px;color:#fff;transform:scaleX(0.950);">N</span>
<div class="r" style="left:2234.1px;top:278.4px;width:1.2px;height:26.6px;background:#4d4d4d;"></div>
<span class="t" style="left:2298.9px;top:282.0px;font-size:21.8px;color:#fff;transform:scaleX(0.950);">O</span>
<div class="r" style="left:2380.1px;top:278.4px;width:1.2px;height:26.6px;background:#4d4d4d;"></div>
<span class="t" style="left:2446.1px;top:282.0px;font-size:21.8px;color:#fff;transform:scaleX(0.950);">P</span>
<div class="r" style="left:2526.1px;top:278.4px;width:1.2px;height:26.6px;background:#4d4d4d;"></div>
<span class="t" style="left:2590.9px;top:282.0px;font-size:21.8px;color:#fff;transform:scaleX(0.950);">Q</span>
<div class="r" style="left:2672.1px;top:278.4px;width:1.2px;height:26.6px;background:#4d4d4d;"></div>
<span class="t" style="left:2737.5px;top:282.0px;font-size:21.8px;color:#fff;transform:scaleX(0.950);">R</span>
<div class="r" style="left:2818.1px;top:278.4px;width:1.2px;height:26.6px;background:#4d4d4d;"></div>
<span class="t" style="left:2830.6px;top:282.0px;font-size:21.8px;color:#fff;transform:scaleX(0.950);">S</span>
<div class="r" style="left:2857.1px;top:278.4px;width:1.2px;height:26.6px;background:#4d4d4d;"></div>
<div class="r" style="left:52.3px;top:278.4px;width:1.0px;height:26.6px;background:#4d4d4d;"></div>
<svg class="r" style="left:28px;top:283px" width="24" height="20"><polygon points="22,1 22,19 2,19" fill="#6e6e6e"/></svg>
<div class="r" style="left:11.0px;top:305.0px;width:42.0px;height:1365.5px;background:#0a0a0a;"></div>
<div class="r" style="left:11.0px;top:305.5px;width:42.0px;height:45.5px;background:#6a6a6a;"></div>
<div class="r" style="left:11.0px;top:350.3px;width:42.0px;height:1.2px;background:#4d4d4d;"></div>
<span class="t" style="left:26.7px;top:328.0px;font-size:20.5px;color:#fff;transform:scaleX(0.980);">1</span>
<div class="r" style="left:11.0px;top:390.8px;width:42.0px;height:1.2px;background:#4d4d4d;"></div>
<span class="t" style="left:26.7px;top:368.0px;font-size:20.5px;color:#fff;transform:scaleX(0.980);">2</span>
<div class="r" style="left:11.0px;top:431.8px;width:42.0px;height:1.2px;background:#4d4d4d;"></div>
<span class="t" style="left:26.7px;top:409.0px;font-size:20.5px;color:#fff;transform:scaleX(0.980);">3</span>
<div class="r" style="left:11.0px;top:460.8px;width:42.0px;height:1.2px;background:#4d4d4d;"></div>
<span class="t" style="left:26.7px;top:438.0px;font-size:20.5px;color:#fff;transform:scaleX(0.980);">4</span>
<div class="r" style="left:11.0px;top:496.3px;width:42.0px;height:1.2px;background:#4d4d4d;"></div>
<span class="t" style="left:26.7px;top:474.0px;font-size:20.5px;color:#fff;transform:scaleX(0.980);">6</span>
<div class="r" style="left:11.0px;top:534.3px;width:42.0px;height:1.2px;background:#4d4d4d;"></div>
<span class="t" style="left:26.7px;top:512.0px;font-size:20.5px;color:#fff;transform:scaleX(0.980);">7</span>
<div class="r" style="left:11.0px;top:571.8px;width:42.0px;height:1.2px;background:#4d4d4d;"></div>
<span class="t" style="left:26.7px;top:549.0px;font-size:20.5px;color:#fff;transform:scaleX(0.980);">8</span>
<div class="r" style="left:11.0px;top:610.8px;width:42.0px;height:1.2px;background:#4d4d4d;"></div>
<span class="t" style="left:26.7px;top:588.0px;font-size:20.5px;color:#fff;transform:scaleX(0.980);">9</span>
<div class="r" style="left:11.0px;top:649.8px;width:42.0px;height:1.2px;background:#4d4d4d;"></div>
<span class="t" style="left:21.1px;top:627.0px;font-size:20.5px;color:#fff;transform:scaleX(0.980);">10</span>
<div class="r" style="left:11.0px;top:688.8px;width:42.0px;height:1.2px;background:#4d4d4d;"></div>
<span class="t" style="left:21.9px;top:666.0px;font-size:20.5px;color:#fff;transform:scaleX(0.980);">11</span>
<div class="r" style="left:11.0px;top:727.8px;width:42.0px;height:1.2px;background:#4d4d4d;"></div>
<span class="t" style="left:21.1px;top:705.0px;font-size:20.5px;color:#fff;transform:scaleX(0.980);">12</span>
<div class="r" style="left:11.0px;top:766.6px;width:42.0px;height:1.2px;background:#4d4d4d;"></div>
<span class="t" style="left:21.1px;top:744.0px;font-size:20.5px;color:#fff;transform:scaleX(0.980);">13</span>
<div class="r" style="left:11.0px;top:804.6px;width:42.0px;height:1.2px;background:#4d4d4d;"></div>
<span class="t" style="left:21.1px;top:782.0px;font-size:20.5px;color:#fff;transform:scaleX(0.980);">14</span>
<div class="r" style="left:11.0px;top:842.8px;width:42.0px;height:1.2px;background:#4d4d4d;"></div>
<span class="t" style="left:21.1px;top:820.0px;font-size:20.5px;color:#fff;transform:scaleX(0.980);">15</span>
<div class="r" style="left:11.0px;top:880.9px;width:42.0px;height:1.2px;background:#4d4d4d;"></div>
<span class="t" style="left:21.1px;top:858.0px;font-size:20.5px;color:#fff;transform:scaleX(0.980);">16</span>
<div class="r" style="left:11.0px;top:918.9px;width:42.0px;height:1.2px;background:#4d4d4d;"></div>
<span class="t" style="left:21.1px;top:896.0px;font-size:20.5px;color:#fff;transform:scaleX(0.980);">17</span>
<div class="r" style="left:11.0px;top:956.9px;width:42.0px;height:1.2px;background:#4d4d4d;"></div>
<span class="t" style="left:21.1px;top:934.0px;font-size:20.5px;color:#fff;transform:scaleX(0.980);">18</span>
<div class="r" style="left:11.0px;top:994.8px;width:42.0px;height:1.2px;background:#4d4d4d;"></div>
<span class="t" style="left:21.1px;top:972.0px;font-size:20.5px;color:#fff;transform:scaleX(0.980);">19</span>
<div class="r" style="left:11.0px;top:1033.8px;width:42.0px;height:1.2px;background:#4d4d4d;"></div>
<span class="t" style="left:21.1px;top:1011.0px;font-size:20.5px;color:#fff;transform:scaleX(0.980);">20</span>
<div class="r" style="left:11.0px;top:1061.9px;width:42.0px;height:1.2px;background:#4d4d4d;"></div>
<span class="t" style="left:21.1px;top:1039.0px;font-size:20.5px;color:#fff;transform:scaleX(0.980);">21</span>
<div class="r" style="left:11.0px;top:1090.3px;width:42.0px;height:1.2px;background:#4d4d4d;"></div>
<span class="t" style="left:21.1px;top:1068.0px;font-size:20.5px;color:#fff;transform:scaleX(0.980);">22</span>
<div class="r" style="left:11.0px;top:1117.9px;width:42.0px;height:1.2px;background:#4d4d4d;"></div>
<span class="t" style="left:21.1px;top:1095.0px;font-size:20.5px;color:#fff;transform:scaleX(0.980);">23</span>
<div class="r" style="left:11.0px;top:1145.8px;width:42.0px;height:1.2px;background:#4d4d4d;"></div>
<span class="t" style="left:21.1px;top:1123.0px;font-size:20.5px;color:#fff;transform:scaleX(0.980);">24</span>
<div class="r" style="left:11.0px;top:1178.0px;width:42.0px;height:1.2px;background:#4d4d4d;"></div>
<span class="t" style="left:21.1px;top:1155.0px;font-size:20.5px;color:#fff;transform:scaleX(0.980);">25</span>
<div class="r" style="left:11.0px;top:1205.7px;width:42.0px;height:1.2px;background:#4d4d4d;"></div>
<span class="t" style="left:21.1px;top:1183.0px;font-size:20.5px;color:#fff;transform:scaleX(0.980);">26</span>
<div class="r" style="left:11.0px;top:1233.6px;width:42.0px;height:1.2px;background:#4d4d4d;"></div>
<span class="t" style="left:21.1px;top:1211.0px;font-size:20.5px;color:#fff;transform:scaleX(0.980);">27</span>
<div class="r" style="left:11.0px;top:1261.6px;width:42.0px;height:1.2px;background:#4d4d4d;"></div>
<span class="t" style="left:21.1px;top:1239.0px;font-size:20.5px;color:#fff;transform:scaleX(0.980);">28</span>
<div class="r" style="left:11.0px;top:1289.5px;width:42.0px;height:1.2px;background:#4d4d4d;"></div>
<span class="t" style="left:21.1px;top:1267.0px;font-size:20.5px;color:#fff;transform:scaleX(0.980);">29</span>
<div class="r" style="left:11.0px;top:1317.6px;width:42.0px;height:1.2px;background:#4d4d4d;"></div>
<span class="t" style="left:21.1px;top:1295.0px;font-size:20.5px;color:#fff;transform:scaleX(0.980);">30</span>
<div class="r" style="left:11.0px;top:1345.6px;width:42.0px;height:1.2px;background:#4d4d4d;"></div>
<span class="t" style="left:21.1px;top:1323.0px;font-size:20.5px;color:#fff;transform:scaleX(0.980);">31</span>
<div class="r" style="left:11.0px;top:1373.7px;width:42.0px;height:1.2px;background:#4d4d4d;"></div>
<span class="t" style="left:21.1px;top:1351.0px;font-size:20.5px;color:#fff;transform:scaleX(0.980);">32</span>
<div class="r" style="left:11.0px;top:1401.7px;width:42.0px;height:1.2px;background:#4d4d4d;"></div>
<span class="t" style="left:21.1px;top:1379.0px;font-size:20.5px;color:#fff;transform:scaleX(0.980);">33</span>
<div class="r" style="left:11.0px;top:1429.7px;width:42.0px;height:1.2px;background:#4d4d4d;"></div>
<span class="t" style="left:21.1px;top:1407.0px;font-size:20.5px;color:#fff;transform:scaleX(0.980);">34</span>
<div class="r" style="left:11.0px;top:1457.8px;width:42.0px;height:1.2px;background:#4d4d4d;"></div>
<span class="t" style="left:21.1px;top:1435.0px;font-size:20.5px;color:#fff;transform:scaleX(0.980);">35</span>
<div class="r" style="left:11.0px;top:1485.8px;width:42.0px;height:1.2px;background:#4d4d4d;"></div>
<span class="t" style="left:21.1px;top:1463.0px;font-size:20.5px;color:#fff;transform:scaleX(0.980);">36</span>
<div class="r" style="left:11.0px;top:1513.7px;width:42.0px;height:1.2px;background:#4d4d4d;"></div>
<span class="t" style="left:21.1px;top:1491.0px;font-size:20.5px;color:#fff;transform:scaleX(0.980);">37</span>
<div class="r" style="left:11.0px;top:1552.7px;width:42.0px;height:1.2px;background:#4d4d4d;"></div>
<span class="t" style="left:21.1px;top:1530.0px;font-size:20.5px;color:#fff;transform:scaleX(0.980);">38</span>
<div class="r" style="left:11.0px;top:1580.7px;width:42.0px;height:1.2px;background:#4d4d4d;"></div>
<span class="t" style="left:21.1px;top:1558.0px;font-size:20.5px;color:#fff;transform:scaleX(0.980);">39</span>
<div class="r" style="left:11.0px;top:1608.8px;width:42.0px;height:1.2px;background:#4d4d4d;"></div>
<span class="t" style="left:21.1px;top:1586.0px;font-size:20.5px;color:#fff;transform:scaleX(0.980);">40</span>
<div class="r" style="left:11.0px;top:1636.7px;width:42.0px;height:1.2px;background:#4d4d4d;"></div>
<span class="t" style="left:21.1px;top:1614.0px;font-size:20.5px;color:#fff;transform:scaleX(0.980);">41</span>
<div class="r" style="left:11.0px;top:1664.8px;width:42.0px;height:1.2px;background:#4d4d4d;"></div>
<span class="t" style="left:21.1px;top:1642.0px;font-size:20.5px;color:#fff;transform:scaleX(0.980);">42</span>
<div class="r" style="left:11.0px;top:458.8px;width:42.0px;height:1.0px;background:#4d4d4d;"></div>
<div class="r" style="left:53.0px;top:304.5px;width:29.0px;height:1.5px;background:#1e7145;"></div>
<div class="r" style="left:52.6px;top:305.0px;width:1.4px;height:46.0px;background:#1e7145;"></div>
<svg class="r" style="left:34px;top:34px" width="26" height="26" viewBox="34 34 26 26" ><defs><clipPath id="xl"><rect x="38" y="35" width="20" height="24" rx="2.6"/></clipPath><linearGradient id="xg" x1="0" y1="0" x2="1" y2="1"><stop offset="0" stop-color="#2f9434"/><stop offset="1" stop-color="#1f7425"/></linearGradient></defs>
<g clip-path="url(#xl)"><rect x="38" y="35" width="20" height="24" fill="url(#xg)"/><rect x="38" y="35" width="9.2" height="8" fill="#63d65b"/><rect x="47.2" y="35" width="10.8" height="8" fill="#b4e662"/></g>
<rect x="35" y="43.2" width="13" height="13.4" rx="3" fill="#0f6f40"/>
<path d="M38.5 45.8L44.7 52.8M44.7 45.8L38.5 52.8" stroke="#f4fff6" stroke-width="2.3" fill="none"/></svg>
<span class="t" style="left:95.2px;top:40.0px;font-size:17.9px;color:#fff;transform:scaleX(0.978);">real-estate-brokerage.xlsx</span>
<span class="t" style="left:308.0px;top:40.0px;font-size:17.9px;color:#fff;transform:scaleX(0.872);">-</span>
<span class="t" style="left:324.0px;top:40.0px;font-size:17.9px;color:#fff;transform:scaleX(0.968);">Read-Only</span>
<svg class="r" style="left:414.0px;top:43.9px" width="15" height="9.6"><polyline points="2,2 7.5,7.6 13,2" fill="none" stroke="#fff" stroke-width="1.9" stroke-linecap="round" stroke-linejoin="round"/></svg>
<svg class="r" style="left:2470px;top:26px" width="400" height="42" viewBox="2470 26 400 42" ><circle cx="2488.6" cy="43.6" r="6.9" fill="none" stroke="#fff" stroke-width="1.8"/><path d="M2483.8 48.8L2476.6 57" stroke="#fff" stroke-width="1.9" stroke-linecap="round"/>
<defs><clipPath id="av"><circle cx="2570.9" cy="46.6" r="17.9"/></clipPath></defs>
<g clip-path="url(#av)"><rect x="2552" y="28" width="38" height="38" fill="#b9d3e0"/><rect x="2552" y="28" width="38" height="9" fill="#8fa9c4"/><rect x="2552" y="46" width="38" height="10" fill="#a9d3d8"/>
<ellipse cx="2571.6" cy="45.5" rx="7.6" ry="9.6" fill="#c49f88"/><path d="M2556 66C2557 58 2563 55.5 2571.5 55.5C2580 55.5 2586 58 2587 66Z" fill="#d9cdbf"/><rect x="2568" y="52" width="7" height="6" fill="#b98d76"/></g>
<path d="M2634.6 36.2H2647.6L2652.6 42.6L2641.1 56.4L2629.6 42.6Z M2629.6 42.6H2652.6 M2634.6 36.2L2637.6 42.6L2641.1 56.4L2644.6 42.6L2647.6 36.2 M2637.6 42.6L2641.1 36.2L2644.6 42.6" fill="none" stroke="#fff" stroke-width="1.6" stroke-linejoin="round"/>
<path d="M2703.4 45.6H2718.8" stroke="#fff" stroke-width="1.7"/>
<rect x="2776.4" y="43" width="10.8" height="10.8" rx="2.4" fill="none" stroke="#fff" stroke-width="1.7"/><path d="M2779.6 39.8H2786.4C2788.6 39.8 2790 41.2 2790 43.4V50.2" fill="none" stroke="#fff" stroke-width="1.7"/>
<path d="M2848 39.8L2862.6 54.4M2862.6 39.8L2848 54.4" stroke="#fff" stroke-width="1.8"/></svg>
<div class="r" style="left:2620.8px;top:87.3px;width:133px;height:34.2px;background:#2a2a2a;border:1.2px solid #6e6e6e;border-radius:7px;"></div>
<svg class="r" style="left:2627px;top:95px" width="20" height="20" viewBox="0 0 20 20"><path d="M2.8 2.6H17.2V13H7.8L4.6 16.4V13H2.8Z" fill="none" stroke="#fff" stroke-width="1.7" stroke-linejoin="round"/></svg>
<span class="t" style="left:2652.2px;top:97.0px;font-size:19.2px;color:#fff;transform:scaleX(1.014);">Comments</span>
<div class="r" style="left:2768px;top:87.3px;width:105.2px;height:35.7px;background:#35a566;border-radius:7px;"></div>
<svg class="r" style="left:2773px;top:94px" width="21" height="21" viewBox="0 0 21 21"><path d="M8.6 6.2H3V18.2H15.8V13.6" fill="none" stroke="#0f0f0f" stroke-width="1.7"/><path d="M6.6 14C7.2 9.6 9.8 7.4 13.4 7.2V4L18.6 8.8L13.4 13.4V10.4C10.6 10.3 8.4 11.4 6.6 14Z" fill="none" stroke="#0f0f0f" stroke-width="1.6" stroke-linejoin="round"/></svg>
<span class="t" style="left:2799.2px;top:97.0px;font-size:19.2px;color:#0d0d0d;transform:scaleX(0.952);">Share</span>
<svg class="r" style="left:2856.3px;top:101.5px" width="11.4" height="7.9"><polyline points="2,2 5.7,5.9 9.4,2" fill="none" stroke="#0d0d0d" stroke-width="1.9" stroke-linecap="round" stroke-linejoin="round"/></svg>
<span class="t" style="left:42.2px;top:98.0px;font-size:19.6px;color:#fff;transform:scaleX(0.953);">File</span>
<span class="t" style="left:111.4px;top:98.0px;font-size:19.6px;color:#fff;font-weight:700;transform:scaleX(1.014);">Home</span>
<span class="t" style="left:198.3px;top:98.0px;font-size:19.6px;color:#fff;transform:scaleX(0.965);">Insert</span>
<span class="t" style="left:277.0px;top:98.0px;font-size:19.6px;color:#fff;transform:scaleX(0.993);">Draw</span>
<span class="t" style="left:353.0px;top:98.0px;font-size:19.6px;color:#fff;transform:scaleX(0.960);">Page Layout</span>
<span class="t" style="left:491.0px;top:98.0px;font-size:19.6px;color:#fff;transform:scaleX(0.982);">Formulas</span>
<span class="t" style="left:600.4px;top:98.0px;font-size:19.6px;color:#fff;transform:scaleX(0.971);">Data</span>
<span class="t" style="left:671.2px;top:98.0px;font-size:19.6px;color:#fff;transform:scaleX(0.930);">Review</span>
<span class="t" style="left:762.0px;top:98.0px;font-size:19.6px;color:#fff;transform:scaleX(0.973);">View</span>
<span class="t" style="left:834.2px;top:98.0px;font-size:19.6px;color:#fff;transform:scaleX(1.031);">Automate</span>
<span class="t" style="left:951.2px;top:98.0px;font-size:19.6px;color:#fff;transform:scaleX(0.995);">Help</span>
<div class="r" style="left:111.5px;top:120.0px;width:57.1px;height:3.1px;background:#57c78a;border-radius:2px;"></div>
<div class="r" style="left:23px;top:128px;width:2855.5px;height:149.8px;background:#292929;border-radius:12px;"></div>
<div class="r" style="left:282.0px;top:134.7px;width:1.2px;height:134.0px;background:#4e4e4e;"></div>
<div class="r" style="left:632.7px;top:134.7px;width:1.2px;height:134.0px;background:#4e4e4e;"></div>
<div class="r" style="left:1082.6px;top:134.7px;width:1.2px;height:134.0px;background:#4e4e4e;"></div>
<div class="r" style="left:1324.8px;top:134.7px;width:1.2px;height:134.0px;background:#4e4e4e;"></div>
<div class="r" style="left:1543.8px;top:134.7px;width:1.2px;height:134.0px;background:#4e4e4e;"></div>
<div class="r" style="left:1867.8px;top:134.7px;width:1.2px;height:134.0px;background:#4e4e4e;"></div>
<div class="r" style="left:1962.7px;top:134.7px;width:1.2px;height:134.0px;background:#4e4e4e;"></div>
<div class="r" style="left:2055.8px;top:134.7px;width:1.2px;height:134.0px;background:#4e4e4e;"></div>
<svg class="r" style="left:52px;top:138px" width="48" height="50" viewBox="52 138 48 50" ><path d="M62.4 147.4H57.2V181H74" fill="none" stroke="#9c9c9c" stroke-width="3.4"/><path d="M80.4 147.4H85.6V158" fill="none" stroke="#9c9c9c" stroke-width="3.4"/>
<path d="M63.6 151.2V146.2H67.2C67.2 143.4 68.8 141.8 71.4 141.8C74 141.8 75.6 143.4 75.6 146.2H79.2V151.2Z" fill="none" stroke="#9c9c9c" stroke-width="1.7"/>
<rect x="76" y="160.6" width="19.4" height="24.6" fill="#292929" stroke="#9c9c9c" stroke-width="1.8"/></svg>
<span class="t" style="left:51.6px;top:197.0px;font-size:16.9px;color:#6f6f6f;transform:scaleX(0.935);">Paste</span>
<svg class="r" style="left:66.0px;top:222.7px" width="11" height="7.7"><polyline points="2,2 5.5,5.7 9,2" fill="none" stroke="#6a6a6a" stroke-width="1.8" stroke-linecap="round" stroke-linejoin="round"/></svg>
<svg class="r" style="left:113px;top:138px" width="22" height="28" viewBox="113 138 22 28" ><path d="M119.2 140.6L127.6 157.8M128.6 140.6L120.2 157.8" stroke="#e4e4e4" stroke-width="1.6" fill="none" stroke-linecap="round"/>
<circle cx="119.2" cy="160.8" r="2.7" fill="none" stroke="#3b9ae0" stroke-width="1.7"/><circle cx="128.6" cy="160.8" r="2.7" fill="none" stroke="#3b9ae0" stroke-width="1.7"/></svg>
<span class="t" style="left:142.4px;top:146.0px;font-size:16.9px;color:#fff;transform:scaleX(1.011);">Cut</span>
<svg class="r" style="left:111px;top:178px" width="27" height="26" viewBox="111 178 27 26" ><path d="M119 195.4H113V180.2H121.6L124 182.6" fill="none" stroke="#d2d2d2" stroke-width="1.7"/>
<path d="M122 185H130.4L135.2 189.8V201.8H122Z" fill="none" stroke="#d2d2d2" stroke-width="1.7" stroke-linejoin="round"/><path d="M130.2 185.2V190H135" fill="none" stroke="#d2d2d2" stroke-width="1.4"/>
<path d="M125.4 194H132M125.4 197.4H132" stroke="#d2d2d2" stroke-width="1.5"/></svg>
<span class="t" style="left:142.4px;top:184.0px;font-size:16.9px;color:#fff;transform:scaleX(1.034);">Copy</span>
<svg class="r" style="left:209.7px;top:187.8px" width="11" height="7.7"><polyline points="2,2 5.5,5.7 9,2" fill="none" stroke="#fff" stroke-width="1.8" stroke-linecap="round" stroke-linejoin="round"/></svg>
<svg class="r" style="left:110px;top:217px" width="28" height="25" viewBox="110 217 28 25" ><path d="M126.6 226.4L133.4 219.6L135.6 221.8L128.8 228.6" fill="none" stroke="#e4e4e4" stroke-width="1.7" stroke-linejoin="round"/>
<path d="M121.8 224.6L130.4 233.2L128.2 235.4L119.6 226.8Z" fill="none" stroke="#e4e4e4" stroke-width="1.6" stroke-linejoin="round"/>
<path d="M119.2 227.2L127.8 235.8L122.6 240L112.8 229.4Z" fill="#f4a928" stroke="#ffd27a" stroke-width="1.2" stroke-linejoin="round"/>
<path d="M113.2 229.2L119.6 227.6L125.4 233.4L119 232.4Z" fill="#292929" opacity="0.55"/></svg>
<span class="t" style="left:142.8px;top:224.0px;font-size:16.9px;color:#fff;transform:scaleX(1.025);">Format Painter</span>
<span class="t" style="left:109.2px;top:255.0px;font-size:15.6px;color:#fff;transform:scaleX(1.017);">Clipboard</span>
<svg class="r" style="left:265px;top:256.8px" width="13" height="13" viewBox="0 0 13 13"><path d="M1 9V1H9" fill="none" stroke="#e6e6e6" stroke-width="1.6"/><path d="M4.5 4.5L11 11M11 5.5V11H5.5" fill="none" stroke="#e6e6e6" stroke-width="1.8"/></svg>
<div class="r" style="left:295.5px;top:146.1px;width:178px;height:33.3px;background:#262626;border:1.1px solid #686868;border-radius:6px;"></div>
<span class="t" style="left:298.5px;top:157.0px;font-size:17.4px;color:#fff;transform:scaleX(1.023);">Tahoma</span>
<svg class="r" style="left:461.5px;top:160.8px" width="11" height="7.7"><polyline points="2,2 5.5,5.7 9,2" fill="none" stroke="#fff" stroke-width="1.8" stroke-linecap="round" stroke-linejoin="round"/></svg>
<div class="r" style="left:479.5px;top:146.1px;width:62.2px;height:33.3px;background:#262626;border:1.1px solid #686868;border-radius:6px;"></div>
<span class="t" style="left:482.6px;top:157.0px;font-size:17.4px;color:#fff;transform:scaleX(0.951);">8</span>
<svg class="r" style="left:529.5px;top:160.8px" width="11" height="7.7"><polyline points="2,2 5.5,5.7 9,2" fill="none" stroke="#fff" stroke-width="1.8" stroke-linecap="round" stroke-linejoin="round"/></svg>
<span class="t" style="left:554.0px;top:150.0px;font-size:26.5px;color:#d6d6d6;transform:scaleX(0.962);">A</span>
<svg class="r" style="left:568.3px;top:152.9px" width="10" height="7.3"><polyline points="2,5.3 5.0,2 8,5.3" fill="none" stroke="#3b9ae0" stroke-width="1.8" stroke-linecap="round" stroke-linejoin="round"/></svg>
<span class="t" style="left:595.8px;top:154.0px;font-size:22px;color:#d6d6d6;transform:scaleX(0.927);">A</span>
<svg class="r" style="left:607.3px;top:152.2px" width="10" height="7.3"><polyline points="2,2 5.0,5.3 8,2" fill="none" stroke="#3b9ae0" stroke-width="1.8" stroke-linecap="round" stroke-linejoin="round"/></svg>
<span class="t" style="left:307.3px;top:202.0px;font-size:19.5px;color:#d6d6d6;font-weight:700;transform:scaleX(0.824);">B</span>
<span class="t" style="left:346.6px;top:200.7px;font-size:20.5px;font-style:italic;color:#d6d6d6;font-family:'Liberation Serif',serif;">I</span>
<span class="t" style="left:383.4px;top:202.0px;font-size:18.5px;color:#d6d6d6;">U</span>
<div class="r" style="left:383.4px;top:219.2px;width:13.4px;height:1.6px;background:#d6d6d6;"></div>
<svg class="r" style="left:413.7px;top:209.2px" width="11" height="7.7"><polyline points="2,2 5.5,5.7 9,2" fill="none" stroke="#fff" stroke-width="1.8" stroke-linecap="round" stroke-linejoin="round"/></svg>
<div class="r" style="left:433.8px;top:194.0px;width:1.2px;height:36.5px;background:#4e4e4e;"></div>
<svg class="r" style="left:443px;top:199px" width="26" height="25" viewBox="443 199 26 25" ><rect x="444.1" y="200.5" width="1.9" height="1.9" fill="#d2d2d2"/><rect x="444.1" y="209.0" width="1.9" height="1.9" fill="#d2d2d2"/><rect x="444.1" y="217.5" width="1.9" height="1.9" fill="#d2d2d2"/><rect x="448.3" y="200.5" width="1.9" height="1.9" fill="#d2d2d2"/><rect x="448.3" y="209.0" width="1.9" height="1.9" fill="#d2d2d2"/><rect x="448.3" y="217.5" width="1.9" height="1.9" fill="#d2d2d2"/><rect x="452.5" y="200.5" width="1.9" height="1.9" fill="#d2d2d2"/><rect x="452.5" y="209.0" width="1.9" height="1.9" fill="#d2d2d2"/><rect x="452.5" y="217.5" width="1.9" height="1.9" fill="#d2d2d2"/><rect x="456.7" y="200.5" width="1.9" height="1.9" fill="#d2d2d2"/><rect x="456.7" y="209.0" width="1.9" height="1.9" fill="#d2d2d2"/><rect x="456.7" y="217.5" width="1.9" height="1.9" fill="#d2d2d2"/><rect x="460.9" y="200.5" width="1.9" height="1.9" fill="#d2d2d2"/><rect x="460.9" y="209.0" width="1.9" height="1.9" fill="#d2d2d2"/><rect x="460.9" y="217.5" width="1.9" height="1.9" fill="#d2d2d2"/><rect x="465.1" y="200.5" width="1.9" height="1.9" fill="#d2d2d2"/><rect x="465.1" y="209.0" width="1.9" height="1.9" fill="#d2d2d2"/><rect x="465.1" y="217.5" width="1.9" height="1.9" fill="#d2d2d2"/><rect x="444.1" y="200.5" width="1.9" height="1.9" fill="#d2d2d2"/><rect x="465.1" y="200.5" width="1.9" height="1.9" fill="#d2d2d2"/><rect x="454.6" y="200.5" width="1.9" height="1.9" fill="#d2d2d2"/><rect x="444.1" y="204.8" width="1.9" height="1.9" fill="#d2d2d2"/><rect x="465.1" y="204.8" width="1.9" height="1.9" fill="#d2d2d2"/><rect x="454.6" y="204.8" width="1.9" height="1.9" fill="#d2d2d2"/><rect x="444.1" y="209.0" width="1.9" height="1.9" fill="#d2d2d2"/><rect x="465.1" y="209.0" width="1.9" height="1.9" fill="#d2d2d2"/><rect x="454.6" y="209.0" width="1.9" height="1.9" fill="#d2d2d2"/><rect x="444.1" y="213.2" width="1.9" height="1.9" fill="#d2d2d2"/><rect x="465.1" y="213.2" width="1.9" height="1.9" fill="#d2d2d2"/><rect x="454.6" y="213.2" width="1.9" height="1.9" fill="#d2d2d2"/><rect x="444.1" y="217.5" width="1.9" height="1.9" fill="#d2d2d2"/><rect x="465.1" y="217.5" width="1.9" height="1.9" fill="#d2d2d2"/><rect x="454.6" y="217.5" width="1.9" height="1.9" fill="#d2d2d2"/><path d="M444.2 221.9H467" stroke="#f2f2f2" stroke-width="2"/></svg>
<svg class="r" style="left:478.6px;top:209.2px" width="11" height="7.7"><polyline points="2,2 5.5,5.7 9,2" fill="none" stroke="#fff" stroke-width="1.8" stroke-linecap="round" stroke-linejoin="round"/></svg>
<div class="r" style="left:498.8px;top:194.0px;width:1.2px;height:36.5px;background:#4e4e4e;"></div>
<svg class="r" style="left:511px;top:199px" width="22" height="19" viewBox="511 199 22 19" ><path d="M521.4 201L523.4 201.6L524.2 207.4L529.2 211.6L520.4 216L513.4 209.4L519.4 205.6Z" fill="none" stroke="#d2d2d2" stroke-width="1.6" stroke-linejoin="round"/>
<path d="M526.8 206C529.4 206.6 530.8 209 530.4 213.4" fill="none" stroke="#3b9ae0" stroke-width="1.8"/><path d="M526 205.4L529.6 207.6L527 209.4Z" fill="#6db5ea"/></svg>
<div class="r" style="left:509.1px;top:218.0px;width:24.1px;height:5.8px;background:#fff200;"></div>
<svg class="r" style="left:543.5px;top:209.2px" width="11" height="7.7"><polyline points="2,2 5.5,5.7 9,2" fill="none" stroke="#fff" stroke-width="1.8" stroke-linecap="round" stroke-linejoin="round"/></svg>
<span class="t" style="left:575.2px;top:198.0px;font-size:23.5px;color:#d6d6d6;transform:scaleX(0.900);">A</span>
<div class="r" style="left:570.0px;top:218.0px;width:24.1px;height:5.8px;background:#ff0000;"></div>
<svg class="r" style="left:604.7px;top:209.2px" width="11" height="7.7"><polyline points="2,2 5.5,5.7 9,2" fill="none" stroke="#fff" stroke-width="1.8" stroke-linecap="round" stroke-linejoin="round"/></svg>
<span class="t" style="left:430.4px;top:255.0px;font-size:15.6px;color:#fff;transform:scaleX(0.980);">Font</span>
<svg class="r" style="left:615.8px;top:256.8px" width="13" height="13" viewBox="0 0 13 13"><path d="M1 9V1H9" fill="none" stroke="#e6e6e6" stroke-width="1.6"/><path d="M4.5 4.5L11 11M11 5.5V11H5.5" fill="none" stroke="#e6e6e6" stroke-width="1.8"/></svg>
<svg class="r" style="left:650px;top:144px" width="245" height="82" viewBox="650 144 245 82" ><path d="M653.2 153H674.8" stroke="#d2d2d2" stroke-width="1.8"/><path d="M656.4 159.1H671.6" stroke="#d2d2d2" stroke-width="1.8"/><path d="M653.2 165.2H674.8" stroke="#d2d2d2" stroke-width="1.8"/><rect x="685.4" y="146.3" width="35" height="35.2" rx="6" fill="#3a3a3a" stroke="#767676" stroke-width="1.1"/><path d="M692.2 157.1H713.8" stroke="#d2d2d2" stroke-width="1.8"/><path d="M695.4 163.2H710.6" stroke="#d2d2d2" stroke-width="1.8"/><path d="M692.2 169.3H713.8" stroke="#d2d2d2" stroke-width="1.8"/><path d="M731.2 163.2H752.8" stroke="#d2d2d2" stroke-width="1.8"/><path d="M734.4 169.3H749.6" stroke="#d2d2d2" stroke-width="1.8"/><path d="M731.2 175.4H752.8" stroke="#d2d2d2" stroke-width="1.8"/><path d="M653.2 202.2H674.8" stroke="#d2d2d2" stroke-width="1.8"/><path d="M653.2 208.2H667.9" stroke="#d2d2d2" stroke-width="1.8"/><path d="M653.2 214.3H674.8" stroke="#d2d2d2" stroke-width="1.8"/><path d="M653.2 220.3H667.9" stroke="#d2d2d2" stroke-width="1.8"/><path d="M692.2 202.2H713.8" stroke="#d2d2d2" stroke-width="1.8"/><path d="M695.7 208.2H710.3" stroke="#d2d2d2" stroke-width="1.8"/><path d="M692.2 214.3H713.8" stroke="#d2d2d2" stroke-width="1.8"/><path d="M695.7 220.3H710.3" stroke="#d2d2d2" stroke-width="1.8"/><path d="M731.2 202.2H752.8" stroke="#d2d2d2" stroke-width="1.8"/><path d="M738.1 208.2H752.8" stroke="#d2d2d2" stroke-width="1.8"/><path d="M731.2 214.3H752.8" stroke="#d2d2d2" stroke-width="1.8"/><path d="M738.1 220.3H752.8" stroke="#d2d2d2" stroke-width="1.8"/><text x="0" y="0" transform="translate(776.5 168.5) rotate(-42)" font-family="Liberation Sans" font-size="15.5" fill="#d2d2d2">ab</text><path d="M781.6 173.6L796.6 158.6M789.4 158.2H797V165.8" fill="none" stroke="#3b9ae0" stroke-width="1.8"/><path d="M774.2 202.2H796.1M774.2 220.3H796.1M785.6 208.2H796.1M785.6 214.3H796.1" stroke="#d2d2d2" stroke-width="1.8"/><path d="M783.6 211.2H775.0M778.8000000000001 207.4L775.0 211.2L778.8000000000001 215" fill="none" stroke="#3b9ae0" stroke-width="1.8"/><path d="M813.3 202.2H835.1999999999999M813.3 220.3H835.1999999999999M824.6999999999999 208.2H835.1999999999999M824.6999999999999 214.3H835.1999999999999" stroke="#d2d2d2" stroke-width="1.8"/><path d="M813.3 211.2H821.9M818.0999999999999 207.4L821.9 211.2L818.0999999999999 215" fill="none" stroke="#3b9ae0" stroke-width="1.8"/><text x="870.2" y="162.8" font-family="Liberation Sans" font-size="13.6" fill="#d2d2d2">ab</text><text x="870.4" y="174.2" font-family="Liberation Sans" font-size="13.6" fill="#d2d2d2">c</text><path d="M885.4 163.4H889.2C892.4 164 892.6 169.4 888.6 170H880.8M884.4 166.6L880.8 170L884.4 173.4" fill="none" stroke="#3b9ae0" stroke-width="1.7"/><rect x="867.6" y="200.8" width="21.8" height="21.2" fill="none" stroke="#d2d2d2" stroke-width="1.6"/><path d="M878.5 200.8V205.6M878.5 217.2V222" stroke="#d2d2d2" stroke-width="1.6"/><rect x="867.6" y="205.4" width="21.8" height="12" fill="#292929" stroke="#3b9ae0" stroke-width="1.7"/><path d="M872 211.4H885M874.6 208.6L871.8 211.4L874.6 214.2M882.4 208.6L885.2 211.4L882.4 214.2" fill="none" stroke="#3b9ae0" stroke-width="1.6"/></svg>
<svg class="r" style="left:804.9px;top:160.8px" width="11" height="7.7"><polyline points="2,2 5.5,5.7 9,2" fill="none" stroke="#fff" stroke-width="1.8" stroke-linecap="round" stroke-linejoin="round"/></svg>
<div class="r" style="left:762.7px;top:146.0px;width:1.2px;height:35.8px;background:#4e4e4e;"></div>
<div class="r" style="left:762.7px;top:194.0px;width:1.2px;height:36.5px;background:#4e4e4e;"></div>
<div class="r" style="left:850.8px;top:144.5px;width:1.2px;height:93.3px;background:#4e4e4e;"></div>
<span class="t" style="left:897.5px;top:158.0px;font-size:16.9px;color:#fff;transform:scaleX(1.027);">Wrap Text</span>
<span class="t" style="left:897.5px;top:206.0px;font-size:16.9px;color:#fff;transform:scaleX(1.054);">Merge &amp; Center</span>
<svg class="r" style="left:1048.9px;top:209.2px" width="11" height="7.7"><polyline points="2,2 5.5,5.7 9,2" fill="none" stroke="#fff" stroke-width="1.8" stroke-linecap="round" stroke-linejoin="round"/></svg>
<span class="t" style="left:810.4px;top:255.0px;font-size:15.6px;color:#fff;transform:scaleX(1.034);">Alignment</span>
<svg class="r" style="left:1065.8px;top:256.8px" width="13" height="13" viewBox="0 0 13 13"><path d="M1 9V1H9" fill="none" stroke="#e6e6e6" stroke-width="1.6"/><path d="M4.5 4.5L11 11M11 5.5V11H5.5" fill="none" stroke="#e6e6e6" stroke-width="1.8"/></svg>
<div class="r" style="left:1096.2px;top:146.1px;width:215.4px;height:33.3px;background:#262626;border:1.1px solid #686868;border-radius:6px;"></div>
<span class="t" style="left:1099.3px;top:157.0px;font-size:17.4px;color:#fff;transform:scaleX(0.942);">General</span>
<svg class="r" style="left:1299.5px;top:160.8px" width="11" height="7.7"><polyline points="2,2 5.5,5.7 9,2" fill="none" stroke="#fff" stroke-width="1.8" stroke-linecap="round" stroke-linejoin="round"/></svg>
<span class="t" style="left:1107.5px;top:198.0px;font-size:26px;color:#d6d6d6;transform:scaleX(0.788);">$</span>
<svg class="r" style="left:1136.8px;top:209.2px" width="11" height="7.7"><polyline points="2,2 5.5,5.7 9,2" fill="none" stroke="#fff" stroke-width="1.8" stroke-linecap="round" stroke-linejoin="round"/></svg>
<span class="t" style="left:1163.5px;top:198.0px;font-size:29.5px;color:#d6d6d6;transform:scaleX(0.869);">%</span>
<svg class="r" style="left:1206px;top:202px" width="18" height="22" viewBox="1206 202 18 22" ><circle cx="1214.6" cy="208.2" r="4.6" fill="#d2d2d2"/><path d="M1219.2 208.4C1219.6 214.8 1216.4 219.8 1210.2 221.6L1209.6 220C1213.4 218.4 1215 215.6 1214.6 212.4Z" fill="#d2d2d2"/></svg>
<div class="r" style="left:1235.0px;top:194.0px;width:1.2px;height:36.5px;background:#4e4e4e;"></div>
<svg class="r" style="left:1243px;top:198px" width="68" height="28" viewBox="1243 198 68 28" ><text x="1260.2" y="210.6" font-family="Liberation Sans" font-size="12.6" fill="#d2d2d2">0</text><text x="1249.6" y="222.8" font-family="Liberation Sans" font-size="12.6" fill="#d2d2d2">.00</text>
<path d="M1257.6 206.4H1246.4M1250.4 202.4L1246.4 206.4L1250.4 210.4" fill="none" stroke="#3b9ae0" stroke-width="1.7"/>
<text x="1288" y="210.6" font-family="Liberation Sans" font-size="12.6" fill="#d2d2d2">.00</text><text x="1295.6" y="222.8" font-family="Liberation Sans" font-size="12.6" fill="#d2d2d2">.0</text>
<path d="M1284.4 217.4H1295.4M1291.4 213.4L1295.4 217.4L1291.4 221.4" fill="none" stroke="#3b9ae0" stroke-width="1.7"/></svg>
<span class="t" style="left:1163.3px;top:255.0px;font-size:15.6px;color:#fff;transform:scaleX(1.027);">Number</span>
<svg class="r" style="left:1307.6px;top:256.8px" width="13" height="13" viewBox="0 0 13 13"><path d="M1 9V1H9" fill="none" stroke="#e6e6e6" stroke-width="1.6"/><path d="M4.5 4.5L11 11M11 5.5V11H5.5" fill="none" stroke="#e6e6e6" stroke-width="1.8"/></svg>
<svg class="r" style="left:1342px;top:136px" width="184" height="46" viewBox="1342 136 184 46" ><rect x="1348.6" y="146" width="41.0" height="31.80000000000001" fill="none" stroke="#c4c4c4" stroke-width="1.7"/><path d="M1362.3 146V177.8M1375.9 146V177.8M1348.6 156.6H1389.6M1348.6 167.2H1389.6" stroke="#c4c4c4" stroke-width="1.5"/><rect x="1356.4" y="156.6" width="36.6" height="11" fill="#1b7fd6"/><path d="M1376 156.6V167.6" stroke="#7fbdf0" stroke-width="1.4"/><path d="M1366 162.1H1346.6M1354 153.6L1346.2 162.1L1354 170.6" fill="none" stroke="#56a8ea" stroke-width="2"/><path d="M1347 160.6H1364.6V163.6H1347" fill="#292929" opacity="0"/><rect x="1413.4" y="146" width="41.19999999999982" height="31.80000000000001" fill="none" stroke="#c4c4c4" stroke-width="1.7"/><path d="M1427.1 146V177.8M1440.9 146V177.8M1413.4 156.6H1454.6M1413.4 167.2H1454.6" stroke="#c4c4c4" stroke-width="1.5"/><rect x="1418.8" y="156.6" width="19" height="11" fill="#1b7fd6"/><path d="M1437.8 156.6L1444 162.1L1437.8 167.6Z" fill="#1b7fd6"/><path d="M1431.6 156.6V167.6" stroke="#7fbdf0" stroke-width="1.4"/><path d="M1440.4 154.6L1456.4 171M1456.4 154.6L1440.4 171" stroke="#e5534f" stroke-width="2.1"/><rect x="1480.2" y="146" width="40.200000000000045" height="31.80000000000001" fill="none" stroke="#c4c4c4" stroke-width="1.7"/><path d="M1493.6 146V177.8M1507.0 146V177.8M1480.2 156.6H1520.4M1480.2 167.2H1520.4" stroke="#c4c4c4" stroke-width="1.5"/><rect x="1490.2" y="157.2" width="20.4" height="10.2" fill="#1b7fd6"/><path d="M1488.2 140.4H1511.6M1488.6 138.2V142.6M1511.2 138.2V142.6" stroke="#4aa0e6" stroke-width="1.6"/></svg>
<span class="t" style="left:1347.5px;top:197.0px;font-size:16.9px;color:#fff;transform:scaleX(1.027);">Insert</span>
<svg class="r" style="left:1362.8px;top:223.3px" width="11" height="7.7"><polyline points="2,2 5.5,5.7 9,2" fill="none" stroke="#fff" stroke-width="1.8" stroke-linecap="round" stroke-linejoin="round"/></svg>
<span class="t" style="left:1409.5px;top:197.0px;font-size:16.9px;color:#fff;transform:scaleX(1.015);">Delete</span>
<svg class="r" style="left:1427.8px;top:223.3px" width="11" height="7.7"><polyline points="2,2 5.5,5.7 9,2" fill="none" stroke="#fff" stroke-width="1.8" stroke-linecap="round" stroke-linejoin="round"/></svg>
<span class="t" style="left:1472.5px;top:195.0px;font-size:16.9px;color:#fff;transform:scaleX(1.061);">Format</span>
<svg class="r" style="left:1493.9px;top:221.2px" width="11" height="7.7"><polyline points="2,2 5.5,5.7 9,2" fill="none" stroke="#fff" stroke-width="1.8" stroke-linecap="round" stroke-linejoin="round"/></svg>
<span class="t" style="left:1418.5px;top:256.0px;font-size:15.6px;color:#fff;transform:scaleX(0.923);">Cells</span>
<svg class="r" style="left:1560px;top:138px" width="290" height="106" viewBox="1560 138 290 106" ><path d="M1583.4 146V142H1566.6L1575.6 152L1566.6 162H1583.8V158" fill="none" stroke="#d2d2d2" stroke-width="1.8" stroke-linejoin="miter"/><rect x="1564" y="181.4" width="22.4" height="19.2" fill="none" stroke="#d2d2d2" stroke-width="1.7"/><path d="M1564 184.6H1586.4" stroke="#d2d2d2" stroke-width="1.2"/><path d="M1575.2 186.4V197.6M1570.6 193.2L1575.2 197.8L1579.8 193.2" fill="none" stroke="#3b9ae0" stroke-width="1.8"/><path d="M1577.6 219.8L1585.6 227.8L1571.6 240.8L1563.8 233Z" fill="none" stroke="#c85fcb" stroke-width="1.8" stroke-linejoin="round"/><path d="M1569.4 227.6L1577.4 235.4L1571.6 240.8L1563.8 233Z" fill="#b444b8"/><text x="1729.2" y="159.8" font-family="Liberation Sans" font-size="24" fill="#3b9ae0" textLength="16" lengthAdjust="spacingAndGlyphs">A</text><path d="M1730.8 164.4H1743.2L1730.8 180.8H1743.6" fill="none" stroke="#d2d2d2" stroke-width="1.8"/><path d="M1748.4 152.6H1771.6V155.6L1762.6 165.4V174.8H1757.4V165.4L1748.4 155.6Z" fill="none" stroke="#d2d2d2" stroke-width="1.7" stroke-linejoin="round"/><circle cx="1826" cy="157" r="15.2" fill="none" stroke="#d2d2d2" stroke-width="1.7"/><path d="M1815.2 167.8L1798.8 184.2" stroke="#d2d2d2" stroke-width="1.9" stroke-linecap="round"/></svg>
<span class="t" style="left:1593.0px;top:146.0px;font-size:16.9px;color:#fff;transform:scaleX(1.057);">AutoSum</span>
<svg class="r" style="left:1693.6px;top:149.0px" width="11" height="7.7"><polyline points="2,2 5.5,5.7 9,2" fill="none" stroke="#fff" stroke-width="1.8" stroke-linecap="round" stroke-linejoin="round"/></svg>
<span class="t" style="left:1593.4px;top:184.0px;font-size:16.9px;color:#fff;transform:scaleX(0.936);">Fill</span>
<svg class="r" style="left:1618.9px;top:187.2px" width="11" height="7.7"><polyline points="2,2 5.5,5.7 9,2" fill="none" stroke="#fff" stroke-width="1.8" stroke-linecap="round" stroke-linejoin="round"/></svg>
<span class="t" style="left:1593.4px;top:224.0px;font-size:16.9px;color:#fff;transform:scaleX(0.966);">Clear</span>
<svg class="r" style="left:1636.8px;top:226.2px" width="11" height="7.7"><polyline points="2,2 5.5,5.7 9,2" fill="none" stroke="#fff" stroke-width="1.8" stroke-linecap="round" stroke-linejoin="round"/></svg>
<span class="t" style="left:1725.2px;top:195.0px;font-size:16.9px;color:#fff;transform:scaleX(1.090);">Sort &amp;</span>
<span class="t" style="left:1724.8px;top:218.0px;font-size:16.9px;color:#fff;transform:scaleX(0.985);">Filter</span>
<svg class="r" style="left:1766.6px;top:221.2px" width="11" height="7.7"><polyline points="2,2 5.5,5.7 9,2" fill="none" stroke="#fff" stroke-width="1.8" stroke-linecap="round" stroke-linejoin="round"/></svg>
<span class="t" style="left:1795.5px;top:195.0px;font-size:16.9px;color:#fff;transform:scaleX(1.071);">Find &amp;</span>
<span class="t" style="left:1790.6px;top:218.0px;font-size:16.9px;color:#fff;transform:scaleX(0.967);">Select</span>
<svg class="r" style="left:1840.5px;top:221.2px" width="11" height="7.7"><polyline points="2,2 5.5,5.7 9,2" fill="none" stroke="#fff" stroke-width="1.8" stroke-linecap="round" stroke-linejoin="round"/></svg>
<span class="t" style="left:1682.3px;top:256.0px;font-size:15.6px;color:#fff;">Editing</span>
<svg class="r" style="left:1893px;top:139px" width="46" height="46" viewBox="1893 139 46 46" ><rect x="1896" y="141.8" width="40" height="40" fill="none" stroke="#c8502c" stroke-width="2.4"/><rect x="1900.6" y="146.4" width="12.8" height="12.8" fill="none" stroke="#c8502c" stroke-width="1.5"/><rect x="1900.6" y="164.4" width="12.8" height="12.8" fill="none" stroke="#c8502c" stroke-width="1.5"/><rect x="1918.6" y="146.4" width="12.8" height="12.8" fill="none" stroke="#c8502c" stroke-width="1.5"/><rect x="1918.6" y="164.4" width="12.8" height="12.8" fill="none" stroke="#c8502c" stroke-width="1.5"/></svg>
<span class="t" style="left:1885.0px;top:195.0px;font-size:16.9px;color:#fff;transform:scaleX(1.091);">Add-ins</span>
<span class="t" style="left:1888.2px;top:256.0px;font-size:15.6px;color:#fff;transform:scaleX(1.006);">Add-ins</span>
<svg class="r" style="left:1987px;top:139px" width="46" height="46" viewBox="1987 139 46 46" ><rect x="1989.8" y="142" width="40.4" height="40" fill="none" stroke="#bdbdbd" stroke-width="1.6"/><rect x="1989.8" y="142" width="40.4" height="5" fill="#767676"/><path d="M1989.8 158.5H2030.2M1989.8 170.5H2030.2M2003 170.5V182M2016.6 170.5V182" stroke="#bdbdbd" stroke-width="1.4"/><circle cx="2008.6" cy="158.8" r="12.4" fill="#292929" stroke="#bdbdbd" stroke-width="1.7"/><path d="M2017.6 167.8L2029.8 181.4" stroke="#bdbdbd" stroke-width="2.2"/><rect x="2001.2" y="157" width="3.6" height="7.4" fill="#9a9a9a"/><rect x="2005.8" y="151.6" width="3.8" height="12.8" fill="none" stroke="#e8e8e8" stroke-width="1.1"/><rect x="2010.8" y="154.4" width="4" height="10" fill="#2b8fe0"/></svg>
<span class="t" style="left:1980.0px;top:195.0px;font-size:16.9px;color:#fff;transform:scaleX(1.018);">Analyze</span>
<span class="t" style="left:1992.6px;top:218.0px;font-size:16.9px;color:#fff;transform:scaleX(1.006);">Data</span>
<svg class="r" style="left:2150px;top:138px" width="130" height="124" viewBox="2150 138 130 124" ><circle cx="2212.5" cy="198.9" r="56" fill="#ffffff"/><rect x="2181.9" y="173.3" width="61" height="52.4" fill="#5b63ee"/><rect x="2190.2" y="181.6" width="18.6" height="14.4" fill="#ffffff"/><rect x="2190.2" y="203.4" width="18.6" height="14.2" fill="#ffffff"/><rect x="2216.4" y="181.6" width="18.6" height="14.4" fill="#ffffff"/><rect x="2216.4" y="203.4" width="18.6" height="14.2" fill="#ffffff"/></svg><span class="t" style="left:2294.0px;top:158.0px;font-size:47.6px;color:#fff;font-weight:700;-webkit-text-stroke:2.7px #fff;">FINM</span>
<span class="t" style="left:2452.5px;top:158.0px;font-size:47.6px;color:#fff;font-weight:700;transform:scaleX(0.888);-webkit-text-stroke:2.7px #fff;">DELSLAB</span>
<svg class="r" style="left:2408px;top:150px" width="48" height="52" viewBox="2408 150 48 52"><circle cx="2431.4" cy="180.4" r="12.4" fill="none" stroke="#fff" stroke-width="10.4"/><rect x="2426.8" y="154" width="9.2" height="28" rx="4.6" fill="#fff" stroke="#292929" stroke-width="2.4"/></svg>
<span class="t" style="left:2295.6px;top:208.0px;font-size:34px;color:#fff;letter-spacing:25.3px;-webkit-text-stroke:0.2px #292929;">Templates</span>
<svg class="r" style="left:2848.8px;top:252.3px" width="16.5" height="10.3"><polyline points="2,2 8.25,8.3 14.5,2" fill="none" stroke="#fff" stroke-width="1.9" stroke-linecap="round" stroke-linejoin="round"/></svg>
<div class="r" style="left:2860.0px;top:278.0px;width:31.0px;height:1392.8px;background:#0a0a0a;"></div>
<div class="r" style="left:2862.5px;top:278.0px;width:26.5px;height:1392.8px;background:#1c1c1c;border-radius:13px;"></div>
<svg class="r" style="left:2868px;top:285px" width="17" height="13"><polygon points="1.4,11 15.4,11 8.4,1.5" fill="#9b9b9b"/></svg>
<svg class="r" style="left:2868px;top:1652px" width="17" height="13"><polygon points="1.4,2 15.4,2 8.4,11.5" fill="#9b9b9b"/></svg>
<div class="r" style="left:2870.3px;top:303.5px;width:11.9px;height:912.2px;background:#9d9d9d;border-radius:6px;"></div>
<div class="r" style="left:11.0px;top:1670.3px;width:2880.0px;height:47.7px;background:#0a0a0a;"></div>
<svg class="r" style="left:40px;top:1682px" width="70" height="24" viewBox="0 0 70 24"><polyline points="14,4 7,11.5 14,19" fill="none" stroke="#777" stroke-width="1.8"/><polyline points="55,4 62,11.5 55,19" fill="none" stroke="#b4b4b4" stroke-width="1.8"/></svg>
<span class="t" style="left:190.3px;top:1686.0px;font-size:20.3px;color:#fff;transform:scaleX(1.017);">Contents</span>
<div class="r" style="left:299.5px;top:1676.3px;width:127.3px;height:35.4px;background:#ffed5f;border-radius:6px;"></div>
<span class="t" style="left:313.4px;top:1686.0px;font-size:20.3px;color:#222;">Dashboard</span>
<div class="r" style="left:292.3px;top:1680.5px;width:1.3px;height:27.0px;background:#595959;"></div>
<div class="r" style="left:440.1px;top:1676.3px;width:105.4px;height:35.4px;background:#ffed5f;border-radius:6px;"></div>
<span class="t" style="left:454.0px;top:1686.0px;font-size:20.3px;color:#222;transform:scaleX(0.955);">Revenue</span>
<div class="r" style="left:432.9px;top:1680.5px;width:1.3px;height:27.0px;background:#595959;"></div>
<div class="r" style="left:558.8px;top:1676.3px;width:158.4px;height:35.4px;background:#ffed5f;border-radius:6px;"></div>
<span class="t" style="left:572.7px;top:1686.0px;font-size:20.3px;color:#222;transform:scaleX(0.926);">COGS &amp; OPEX</span>
<div class="r" style="left:551.6px;top:1680.5px;width:1.3px;height:27.0px;background:#595959;"></div>
<div class="r" style="left:729.9px;top:1676.3px;width:89.0px;height:35.4px;background:#ffed5f;border-radius:6px;"></div>
<span class="t" style="left:743.8px;top:1686.0px;font-size:20.3px;color:#222;transform:scaleX(0.986);">Payroll</span>
<div class="r" style="left:722.7px;top:1680.5px;width:1.3px;height:27.0px;background:#595959;"></div>
<div class="r" style="left:832.2px;top:1676.3px;width:86.5px;height:35.4px;background:#ffed5f;border-radius:6px;"></div>
<span class="t" style="left:846.1px;top:1686.0px;font-size:20.3px;color:#222;transform:scaleX(0.853);">CAPEX</span>
<div class="r" style="left:825.0px;top:1680.5px;width:1.3px;height:27.0px;background:#595959;"></div>
<div class="r" style="left:932.0px;top:1676.3px;width:112.7px;height:35.4px;background:#ffed5f;border-radius:6px;"></div>
<span class="t" style="left:945.9px;top:1686.0px;font-size:20.3px;color:#222;transform:scaleX(0.990);">CapTable</span>
<div class="r" style="left:924.8px;top:1680.5px;width:1.3px;height:27.0px;background:#595959;"></div>
<div class="r" style="left:1058.0px;top:1676.3px;width:89.6px;height:35.4px;background:#ffed5f;border-radius:6px;"></div>
<span class="t" style="left:1071.9px;top:1686.0px;font-size:20.3px;color:#222;transform:scaleX(0.978);">Capital</span>
<div class="r" style="left:1050.8px;top:1680.5px;width:1.3px;height:27.0px;background:#595959;"></div>
<div class="r" style="left:1160.9px;top:1676.3px;width:42.1px;height:35.4px;background:#45aee8;border-radius:6px;"></div>
<span class="t" style="left:1173.6px;top:1686.0px;font-size:20.3px;color:#222;transform:scaleX(0.871);">IS</span>
<div class="r" style="left:1153.7px;top:1680.5px;width:1.3px;height:27.0px;background:#595959;"></div>
<div class="r" style="left:1215.7px;top:1676.3px;width:48.2px;height:35.4px;background:#45aee8;border-radius:6px;"></div>
<span class="t" style="left:1228.4px;top:1686.0px;font-size:20.3px;color:#222;transform:scaleX(0.843);">CF</span>
<div class="r" style="left:1208.5px;top:1680.5px;width:1.3px;height:27.0px;background:#595959;"></div>
<div class="r" style="left:1276.6px;top:1676.3px;width:48.1px;height:35.4px;background:#45aee8;border-radius:6px;"></div>
<span class="t" style="left:1289.3px;top:1686.0px;font-size:20.3px;color:#222;transform:scaleX(0.838);">BS</span>
<div class="r" style="left:1269.4px;top:1680.5px;width:1.3px;height:27.0px;background:#595959;"></div>
<div class="r" style="left:1337.4px;top:1676.3px;width:115.2px;height:35.4px;background:#45aee8;border-radius:6px;"></div>
<span class="t" style="left:1351.3px;top:1686.0px;font-size:20.3px;color:#222;transform:scaleX(0.968);">Scenarios</span>
<div class="r" style="left:1330.2px;top:1680.5px;width:1.3px;height:27.0px;background:#595959;"></div>
<div class="r" style="left:1465.9px;top:1676.3px;width:115.0px;height:35.4px;background:#45aee8;border-radius:6px;"></div>
<span class="t" style="left:1479.8px;top:1686.0px;font-size:20.3px;color:#222;transform:scaleX(1.049);">Valuation</span>
<div class="r" style="left:1458.7px;top:1680.5px;width:1.3px;height:27.0px;background:#595959;"></div>
<div class="r" style="left:1594.4px;top:1676.3px;width:113.8px;height:35.4px;background:#45aee8;border-radius:6px;"></div>
<span class="t" style="left:1608.3px;top:1686.0px;font-size:20.3px;color:#222;transform:scaleX(0.990);">Summary</span>
<div class="r" style="left:1587.2px;top:1680.5px;width:1.3px;height:27.0px;background:#595959;"></div>
<div class="r" style="left:1721.1px;top:1676.3px;width:47.8px;height:35.4px;background:#45aee8;border-radius:6px;"></div>
<span class="t" style="left:1733.8px;top:1686.0px;font-size:20.3px;color:#222;transform:scaleX(0.827);">BE</span>
<div class="r" style="left:1713.9px;top:1680.5px;width:1.3px;height:27.0px;background:#595959;"></div>
<div class="r" style="left:1781.8px;top:1676.3px;width:72.5px;height:35.4px;background:#45aee8;border-radius:6px;"></div>
<span class="t" style="left:1795.7px;top:1686.0px;font-size:20.3px;color:#222;transform:scaleX(0.881);">ROIC</span>
<div class="r" style="left:1774.6px;top:1680.5px;width:1.3px;height:27.0px;background:#595959;"></div>
<div class="r" style="left:1867.2px;top:1676.3px;width:84.9px;height:35.4px;background:#45aee8;border-radius:6px;"></div>
<span class="t" style="left:1881.1px;top:1686.0px;font-size:20.3px;color:#222;transform:scaleX(0.955);">Charts</span>
<div class="r" style="left:1860.0px;top:1680.5px;width:1.3px;height:27.0px;background:#595959;"></div>
<div class="r" style="left:1958.0px;top:1680.5px;width:1.3px;height:27.0px;background:#595959;"></div>
<div class="r" style="left:2034.8px;top:1680.5px;width:1.3px;height:27.0px;background:#595959;"></div>
<svg class="r" style="left:1958px;top:1669.5px" width="80" height="44" viewBox="0 0 80 44"><defs><linearGradient id="kg" x1="0" y1="0" x2="0" y2="1"><stop offset="0" stop-color="#fff"/><stop offset="0.35" stop-color="#fafdff"/><stop offset="1" stop-color="#c6e2f5"/></linearGradient></defs><path d="M0 0H80V0.8C75 0.8 71.2 3.6 71.2 8V36.5C71.2 39.8 69 42.2 65.6 42.2H13C9.6 42.2 7.4 39.8 7.4 36.5V8C7.4 3.6 4.4 0.8 0 0.8Z" fill="url(#kg)"/></svg>
<span class="t" style="left:1977.6px;top:1680.0px;font-size:20.3px;color:#1e1e1e;transform:scaleX(0.914);">KPIs</span>
<div class="r" style="left:1976.9px;top:1705.0px;width:40.3px;height:2.6px;background:#1f8a4e;"></div>
<div class="r" style="left:2041.9px;top:1676.3px;width:30.3px;height:35.4px;background:#45aee8;border-radius:6px 0 0 6px;"></div>
<div class="r" style="left:2041.9px;top:1676.3px;width:30.3px;height:35.4px;overflow:hidden;"><span class="t" style="left:12.6px;top:9.0px;font-size:20.3px;color:#222;">Scenarios</span></div>
<svg class="r" style="left:2084px;top:1686px" width="120" height="20" viewBox="0 0 120 20"><circle cx="5.2" cy="7" r="1.9" fill="#fff"/><circle cx="11.4" cy="7" r="1.9" fill="#fff"/><circle cx="17.6" cy="7" r="1.9" fill="#fff"/><path d="M50.8 7H67.6M59.2 -1.4V15.4" stroke="#fff" stroke-width="1.5" fill="none"/><rect x="106.5" y="1.6" width="3" height="3" fill="#fff"/><rect x="106.5" y="7.4" width="3" height="3" fill="#fff"/><rect x="106.5" y="13.2" width="3" height="3" fill="#fff"/></svg>
<div class="r" style="left:2216.0px;top:1680.3px;width:644.5px;height:25.4px;background:#1d1d1d;border-radius:12px;"></div>
<svg class="r" style="left:2222px;top:1684px" width="14" height="18"><polygon points="12,2 12,16 2,9" fill="#9b9b9b"/></svg>
<svg class="r" style="left:2841px;top:1684px" width="14" height="18"><polygon points="2,2 2,16 12,9" fill="#9b9b9b"/></svg>
<div class="r" style="left:2241.6px;top:1687.4px;width:414.8px;height:12.0px;background:#9d9d9d;border-radius:6px;"></div>
<div class="r" style="left:11.0px;top:1718.0px;width:2880.0px;height:32.7px;background:#141414;"></div>
<div class="r" style="left:11.0px;top:1717.8px;width:2880.0px;height:1.1px;background:#2c2c2c;"></div>
<span class="t" style="left:27.2px;top:1729.0px;font-size:15.6px;color:#fff;transform:scaleX(0.954);">Ready</span>
<div class="r" style="left:2446.0px;top:1718.6px;width:57.0px;height:32.1px;background:#2a2a2a;"></div>
<svg class="r" style="left:95px;top:1720px" width="2730" height="30" viewBox="95 1720 2730 30" ><rect x="99.6" y="1726.2" width="21.6" height="17.8" fill="none" stroke="#e6e6e6" stroke-width="1.5"/><path d="M99.6 1729.8H121.2M103 1733.8H108M103 1737.4H108M103 1740.8H108" stroke="#e6e6e6" stroke-width="1.4"/><circle cx="114.6" cy="1738" r="4.6" fill="#141414" stroke="#e6e6e6" stroke-width="1.5"/><circle cx="114.6" cy="1738" r="1.4" fill="#e6e6e6"/><circle cx="156.6" cy="1726.6" r="2.5" fill="none" stroke="#e6e6e6" stroke-width="1.4"/><path d="M147.6 1730.4L156.6 1732.4L165.6 1730.4M156.6 1732.4V1737L151.6 1745M156.6 1737L159 1740.6" fill="none" stroke="#e6e6e6" stroke-width="1.5" stroke-linecap="round"/><path d="M160 1739L167 1746M167 1739L160 1746" stroke="#e6e6e6" stroke-width="1.5"/><rect x="2465" y="1725.8" width="18" height="17.6" fill="none" stroke="#fff" stroke-width="2"/><path d="M2471 1725.8V1743.4M2477 1725.8V1743.4M2465 1731.7H2483M2465 1737.5H2483" stroke="#fff" stroke-width="1.7"/><rect x="2525.4" y="1725.8" width="18.6" height="17.6" fill="none" stroke="#fff" stroke-width="2"/><rect x="2529.8" y="1729.8" width="9.8" height="9.8" fill="none" stroke="#fff" stroke-width="1.5"/><path d="M2532 1732.6H2537.4M2532 1734.8H2537.4M2532 1737H2537.4" stroke="#fff" stroke-width="1.1"/><path d="M2585.4 1725.8H2604.4V1743.4H2585.4Z" fill="none" stroke="#fff" stroke-width="2"/><path d="M2591 1725.8V1734.8M2599 1725.8V1734.8M2585.4 1734.8H2599" fill="none" stroke="#fff" stroke-width="1.8"/><path d="M2633 1735.2H2644M2653.4 1735.2H2800.6M2808.6 1735.2H2820M2814.3 1729.6V1740.8" stroke="#c4c4c4" stroke-width="1.7"/><path d="M2726.8 1730.6V1739.8" stroke="#c4c4c4" stroke-width="1.5"/><rect x="2732.8" y="1726.2" width="8" height="17" rx="1" fill="#bdbdbd"/></svg>
<span class="t" style="left:173.3px;top:1729.0px;font-size:15.4px;color:#fff;font-weight:700;transform:scaleX(1.018);">Accessibility: Investigate</span>
<span class="t" style="left:2839.8px;top:1729.0px;font-size:15.6px;color:#fff;transform:scaleX(0.972);">140%</span>
</body></html>
